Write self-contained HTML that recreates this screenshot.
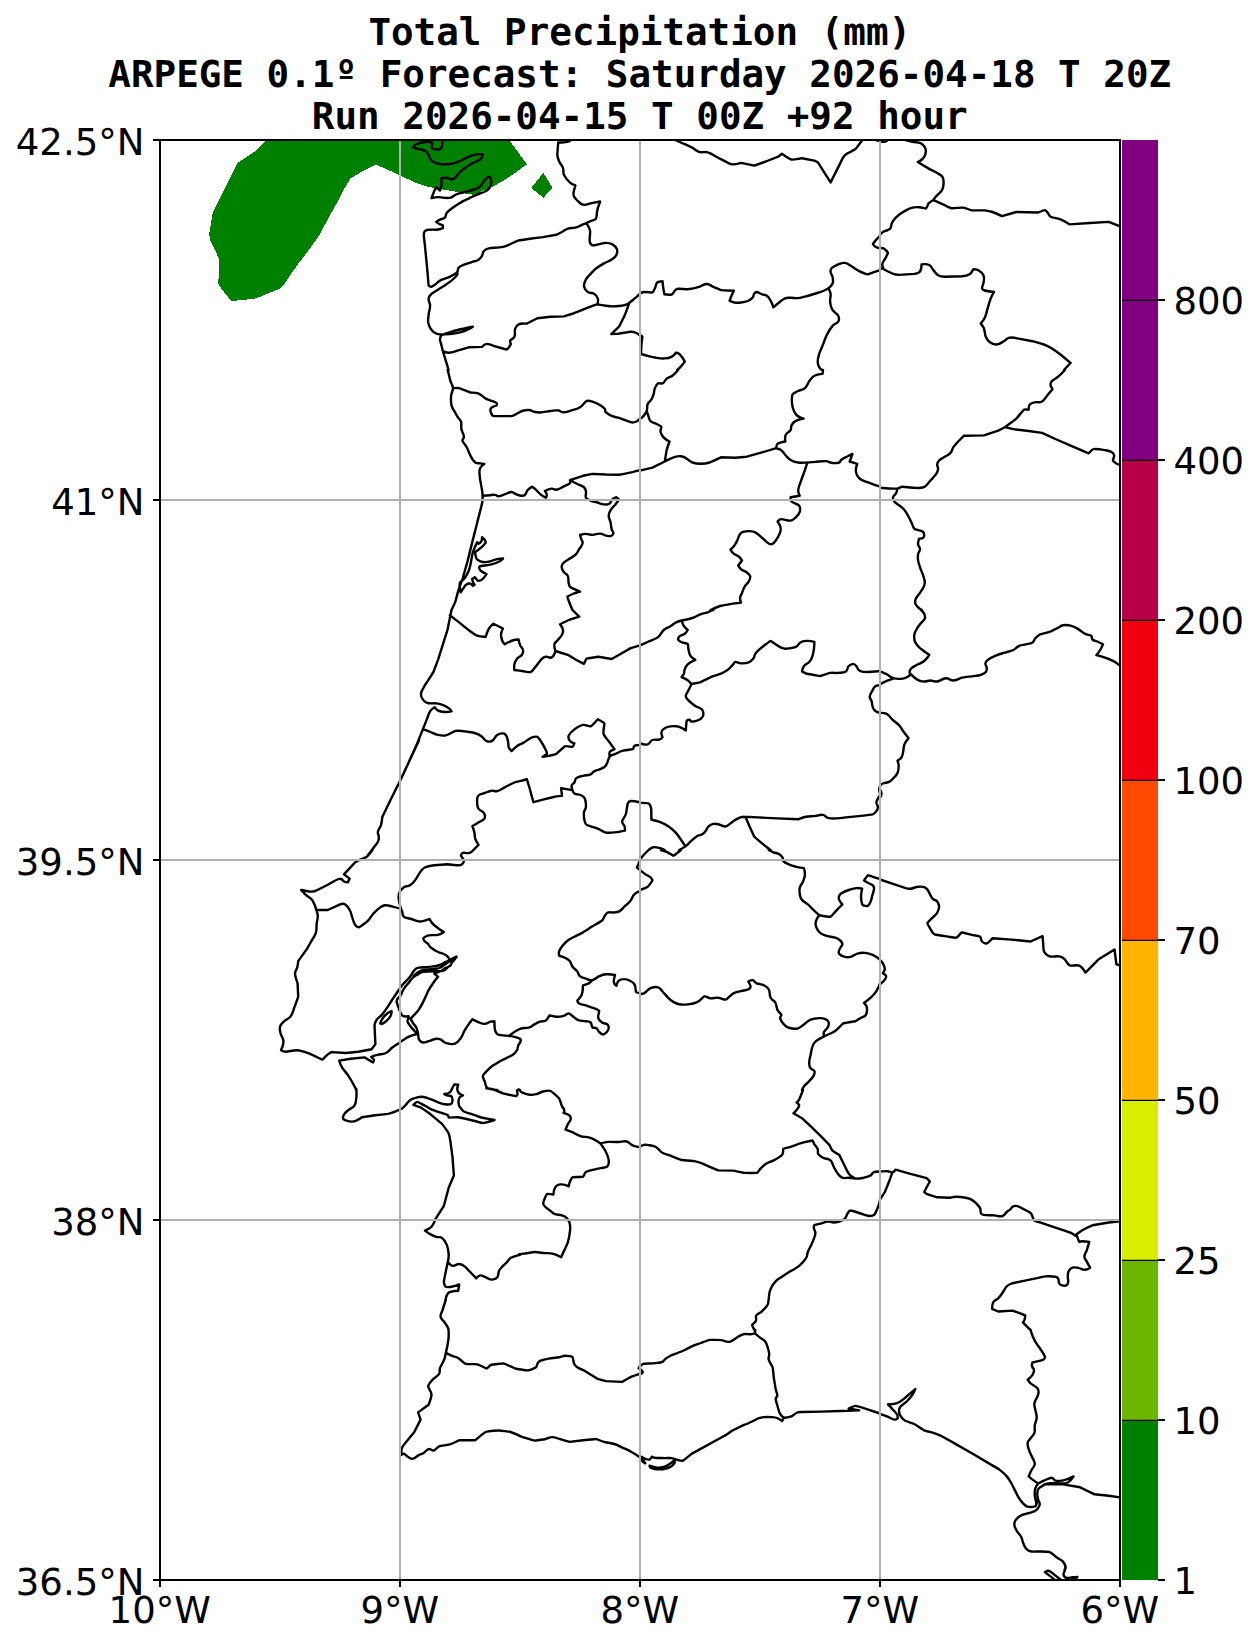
<!DOCTYPE html>
<html><head><meta charset="utf-8">
<style>
html,body{margin:0;padding:0;background:#fff;}
body{width:1259px;height:1646px;overflow:hidden;}
svg{display:block;}
.t{font-family:"DejaVu Sans Mono","Liberation Mono",monospace;font-weight:bold;font-size:37.57px;text-anchor:middle;fill:#000;}
.l{font-family:"DejaVu Sans","Liberation Sans",sans-serif;font-size:37px;fill:#000;}
.b{fill:none;stroke:#000;stroke-width:2.4;stroke-linejoin:round;stroke-linecap:round;}
.g{stroke:#b0b0b0;stroke-width:2;fill:none;}
</style></head><body>
<svg width="1259" height="1646" viewBox="0 0 1259 1646">
<rect width="1259" height="1646" fill="#fff"/>
<!--TITLE-->
<text class="t" x="639.75" y="44.7" xml:space="preserve">Total Precipitation (mm)</text>
<text class="t" x="639.75" y="86.7" xml:space="preserve">ARPEGE 0.1º Forecast: Saturday 2026-04-18 T 20Z</text>
<text class="t" x="639.75" y="128.7" xml:space="preserve">Run 2026-04-15 T 00Z +92 hour</text>
<!--MAP-->
<svg x="160" y="140" width="960" height="1440" viewBox="160 140 960 1440" overflow="hidden">
<g id="fill">
<path fill="#008000" shape-rendering="crispEdges" d="M266.2 140.2L256.6 150.3L237.5 163L233.7 170.7L223.5 191L212.9 211.8L210.8 224L209.1 234.2L210.8 241.8L215.9 252L219 259.6L219 274.9L218 283.8L223.5 291.4L231.2 300.8L241.3 300.3L256.6 298.3L266.8 293.9L279.5 288.9L284.5 283.8L292.2 272.3L298.5 263.4L307.4 252L320.1 234.2L327.8 219L337.9 201.2L344.3 188.5L350.6 178.3L363.3 170.7L376 164.6L388.8 170.2L399.4 175.2L414.2 182.1L426.9 186.4L439.6 189L452.3 191L459.9 192.5L467.5 194.1L480 194.8L480 140.2ZM472.4 139.5L472.4 194.8L473.4 194.8L482 191L491.5 187.2L502.9 181.1L514.4 173.5L526.8 164.3L522 157.6L514.4 147.2L509.6 140.5L509 139.5ZM543.4 172.9L552.5 188.1L543.4 197.7L531.2 188.1Z"/>
</g>
<g class="b">
<path d="M442.3 139.5C442.3 139.5 442.4 140.6 442.3 141.4C442.1 143.7 442.5 145.0 441.6 147.2C441.1 148.4 440.4 149.1 439.1 149.4C437.2 149.9 436.1 149.6 434.3 149.1C433.0 148.7 431.6 147.4 431.5 147.2C431.4 147.0 432.4 143.3 432.4 143.3C432.4 143.3 430.2 142.0 428.6 141.8C426.3 141.6 425.1 141.9 422.9 142.4C420.2 143.0 418.7 143.0 416.2 144.3C414.6 145.1 413.0 147.5 413 147.5C413.0 147.5 416.7 148.5 419.1 149.1C421.4 149.7 422.8 149.4 424.8 150.6C426.7 151.8 427.4 152.9 428.6 154.8C429.7 156.5 429.2 157.9 430.5 159.5C432.0 161.3 433.1 162.0 435.3 162.8C438.5 164.0 440.3 164.2 443.8 164.3C447.7 164.4 449.7 164.2 453.4 163.4C456.6 162.7 458.0 161.8 461 160.5C464.1 159.1 465.4 158.0 468.6 156.7C471.6 155.5 473.1 155.0 476.3 154.4C478.9 153.9 482.9 154.2 482.9 154.2C482.9 154.2 482.3 157.2 481 158.6C479.5 160.2 478.2 160.4 476.3 161.5C474.0 162.7 472.7 163.0 470.5 164.3C468.1 165.7 467.0 166.4 464.8 168.1C462.4 169.9 461.2 170.8 459.1 172.9C457.4 174.6 457.2 176.1 455.3 177.7C454.0 178.7 453.1 179.2 451.5 179.2C449.1 179.2 448.2 177.8 445.8 177.7C443.8 177.6 441.0 178.6 441 178.6C441.0 178.6 441.8 182.0 441.6 184.3C441.4 186.9 440.0 190.6 440 190.6C440.0 190.6 436.2 187.2 436.2 187.2C436.2 187.2 435.0 189.4 434.3 191C433.1 193.8 431.5 198.2 431.5 198.2C431.5 198.2 435.4 197.2 438.1 197.1C440.4 197.0 441.5 197.6 443.8 197.7C446.5 197.8 447.9 198.4 450.5 197.7C452.7 197.2 453.2 195.7 455.3 194.8C458.2 193.6 459.8 193.4 462.9 192.5C466.4 191.5 469.1 191.1 472.4 190C475.2 189.1 476.7 188.9 479.1 187.2C481.1 185.8 481.4 184.3 482.9 182.4C484.1 180.9 484.3 179.8 485.8 178.6C487.1 177.5 489.6 176.7 489.6 176.7C489.6 176.7 490.9 178.3 491.1 179.6C491.4 181.9 491.3 183.1 490.7 185.3C490.3 187.0 489.8 187.9 488.6 189.1C487.0 190.7 485.9 191.1 483.9 192C481.0 193.4 479.3 193.5 476.3 194.8C473.1 196.2 471.7 197.1 468.6 198.6C465.6 200.1 464.0 200.7 461 202.4C457.9 204.2 456.3 205.1 453.4 207.2C450.6 209.3 448.9 210.2 446.7 212.9C445.4 214.5 446.3 216.2 444.8 217.7C443.3 219.2 441.9 218.7 440 219.6C438.4 220.4 436.2 221.9 436.2 221.9C436.2 221.9 437.9 223.2 439.1 223.8C440.6 224.5 442.7 225.1 442.9 225.3C443.1 225.5 442.9 228.2 442.9 228.2C442.9 228.2 440.1 229.3 438.1 229.5C435.1 229.9 433.5 229.5 430.5 229.7C428.6 229.9 427.1 229.6 425.7 230.5C424.4 231.3 423.9 232.3 423.8 233.9C423.7 236.1 424.8 244.4 424.8 244.4C424.8 244.4 426.3 259.6 426.3 259.6C426.3 259.6 427.6 273.0 427.6 273C427.6 273.0 428.5 285.2 428.6 285.4C428.7 285.6 430.3 286.9 431.5 286.7C432.7 286.5 433.9 285.4 435.3 284.4C437.3 283.0 437.9 281.7 440 280.6C442.9 279.0 444.7 279.0 447.7 277.7C450.0 276.7 451.2 276.2 453.4 274.9C455.0 273.9 456.1 273.5 457.2 272C458.3 270.5 457.4 268.9 458.7 267.6C460.6 265.7 462.3 265.5 464.8 264.4C467.8 263.2 469.4 262.9 472.4 261.9C474.7 261.1 476.1 261.3 478.2 260C480.1 258.8 480.8 257.7 482 255.8C483.1 254.1 482.4 252.5 483.9 251C485.7 249.2 487.1 248.8 489.6 248.2C492.6 247.4 494.2 247.9 497.2 247.6C499.9 247.3 501.3 247.4 503.9 246.7C506.7 246.0 507.9 245.1 510.6 244C513.7 242.7 516.4 241.1 518.2 240.6C520.0 240.1 529.6 238.7 529.6 238.7C529.6 238.7 543.0 237.1 543 237.1C543.0 237.1 556.3 234.8 556.3 234.8C556.3 234.8 559.8 233.2 562 232C564.4 230.7 565.3 229.5 567.8 228.7C570.7 227.7 572.4 228.4 575.4 227.6C578.6 226.7 580.0 225.7 583 224.4C586.0 223.1 587.6 222.5 590.6 221.1C592.8 220.1 595.0 220.2 596 218.6C597.0 217.0 596.5 213.4 597.3 210.1C598.2 206.6 600.2 201.5 600.2 201.5C600.2 201.5 594.1 202.7 590.6 203.4C587.6 204.0 586.0 205.4 583 204.7C580.2 204.1 579.3 202.5 577.3 200.5C575.4 198.5 573.8 197.4 573.5 194.8C573.2 192.2 575.4 185.3 575.4 185.3C575.4 185.3 571.6 184.1 569.7 182.4C567.2 180.1 565.4 177.9 563.9 174.8C562.8 172.4 563.9 170.6 563 168.1C562.0 165.2 560.4 164.3 559.2 161.5C558.1 158.9 557.3 155.5 557.3 154.8C557.3 154.1 558.2 142.4 558.2 142.4C558.2 142.4 561.6 142.7 563.9 142.4C566.3 142.1 568.1 141.8 569.7 141.1C570.4 140.8 570.6 139.5 570.6 139.5M457.2 272C457.2 272.0 457.8 273.9 457.2 274.9C455.7 277.1 452.8 279.6 451.5 280.6C450.2 281.6 442.8 286.7 441.9 287.3C441.0 287.9 432.1 293.4 431.5 293.9C430.9 294.4 428.9 296.5 428.6 298.7C428.3 301.4 430.1 302.7 430.1 305.4C430.1 308.9 429.0 311.2 428.6 314.9C428.3 317.9 427.8 319.5 428.2 322.5C428.6 325.0 429.2 326.2 430.5 328.3C431.7 330.2 432.4 331.2 434.3 332.4C436.3 333.7 437.6 334.1 440 334.4C443.3 334.7 447.7 334.2 449.6 334C451.5 333.8 459.2 332.5 461 332.1C462.8 331.7 465.6 330.6 468.6 329.2C470.4 328.4 472.8 326.7 472.8 326.7C472.8 326.7 466.4 327.9 464.8 328.3C463.2 328.7 454.7 330.7 453.4 331.1C452.1 331.5 442.5 334.5 441.9 334.9C441.3 335.3 440.2 337.0 440 338.7C439.8 340.7 440.6 341.6 441 343.5C441.7 346.6 442.1 348.1 442.9 351.1C443.8 354.4 444.7 357.1 445.8 360.7C446.9 364.3 448.6 370.0 448.6 370M442.9 351.1C442.9 351.1 446.2 352.8 448.6 352.7C452.1 352.6 455.8 351.1 457.2 350.7C458.6 350.3 468.6 347.3 468.6 347.3C468.6 347.3 482.0 346.9 482 346.9C482.0 346.9 484.5 344.0 486.7 343.9C489.2 343.8 493.9 346.0 495.3 346.4C496.7 346.8 506.7 349.6 506.8 349.6C506.9 349.6 509.7 346.9 510.6 344.5C511.2 343.0 509.5 342.0 510.2 340.6C510.9 339.2 513.5 338.9 514.4 336.8C515.7 333.7 514.1 331.5 515.3 328.3C516.1 326.2 517.0 325.0 519.1 324.1C522.0 322.9 525.3 324.0 526.8 323.5C528.3 323.0 537.3 318.3 537.3 318.3C537.3 318.3 550.6 316.8 550.6 316.8C550.6 316.8 563.9 316.4 563.9 316.4C563.9 316.4 570.6 314.3 571.6 314C572.6 313.7 582.0 310.0 583 309.6C584.0 309.2 590.0 306.7 592.5 305.8C594.4 305.1 597.3 304.4 597.3 304.4M597.3 304.4C597.3 304.4 598.5 300.9 597.9 298.7C597.3 296.4 596.4 295.2 594.4 293.9C592.1 292.4 590.0 293.6 587.8 292C585.6 290.4 584.4 289.0 584 286.3C583.6 283.5 584.6 282.1 585.9 279.6C587.3 277.0 588.6 276.1 590.6 273.9C592.8 271.5 593.8 270.2 596.3 268.2C599.2 266.0 600.8 265.2 604 263.4C607.0 261.7 608.8 261.5 611.6 259.6C613.8 258.1 615.2 257.3 616.4 254.9C617.4 252.8 617.7 251.3 616.9 249.1C616.0 246.7 614.7 245.7 612.5 244.4C610.1 243.1 608.6 242.9 605.9 242.9C602.8 242.9 601.4 243.9 598.3 244.4C596.0 244.8 593.4 245.6 592.5 245.3C591.6 245.0 590.0 243.4 589.7 241.5C589.3 239.3 590.4 233.6 590.1 231C589.8 228.6 589.0 227.5 587.8 225.3C587.3 224.4 585.9 223.4 585.9 223.4M597.3 304.4C597.3 304.4 602.4 305.4 605.9 305.8C609.7 306.2 613.5 306.4 615.4 306.3C617.3 306.2 625.0 305.1 626.8 304.4C628.6 303.7 631.6 301.1 634.5 298.7C636.8 296.8 640.0 293.6 640 293.6M628.8 304.4C628.8 304.4 625.1 314.5 624.9 314.9C624.7 315.3 619.4 326.0 619.2 326.3C619.0 326.6 611.2 334.0 611.2 334C611.2 334.0 617.5 333.8 619.2 333.6C620.9 333.4 629.2 331.8 630.7 331.7C632.2 331.6 634.2 332.1 636.4 333C638.0 333.7 640.0 335.5 640 335.5M674.3 139.5C674.3 139.5 679.1 141.8 681.9 143C684.7 144.2 688.7 145.8 691.5 147.2C694.3 148.6 695.7 150.8 699.1 151.9C702.4 152.9 704.4 151.4 707.7 152.3C711.4 153.3 712.9 154.9 716.3 156.7C719.7 158.5 721.5 159.4 724.8 161.1C727.5 162.4 728.5 164.0 731.5 164.3C735.0 164.7 741.0 162.8 741 162.8C741.0 162.8 754.4 165.6 754.4 165.6C754.4 165.6 765.8 161.5 765.8 161.5C765.8 161.5 778.2 156.7 778.2 156.7C778.2 156.7 781.8 153.8 782 153.8C782.2 153.8 789.1 159.0 791.5 159.5C793.9 160.0 802.0 158.2 802 158.2C802.0 158.2 815.4 160.9 815.4 160.9C815.4 160.9 818.2 162.8 818.2 162.8C818.2 162.8 830.6 182.4 830.6 182.4C830.6 182.4 837.3 169.1 837.3 169.1C837.3 169.1 842.9 157.8 843 157.6C843.1 157.4 845.0 155.0 846.8 153.8C849.3 152.1 854.4 150.0 855.4 149.1C856.4 148.2 862.7 139.5 862.7 139.5M873.5 139.5L880 141.1M880 235.8C880.0 235.8 877.1 238.6 875.4 240.6C874.3 241.9 872.9 244.0 872.9 244C872.9 244.0 874.1 246.0 875.4 246.7C877.1 247.7 880.0 248.2 880 248.2M640 293.6C640.0 293.6 642.2 292.2 643.8 292C647.2 291.7 651.3 292.8 652.4 292.4C653.5 292.0 654.0 290.0 654.9 288.2C656.0 286.0 655.8 283.8 657.2 282.5C658.6 281.2 662.5 281.2 662.5 281.2C662.5 281.2 662.9 285.4 663.3 288.2C663.7 290.7 664.4 294.3 664.4 294.3C664.4 294.3 669.8 295.2 672 294.3C674.0 293.5 673.7 291.5 675.3 290.1C676.2 289.3 676.9 288.9 678.1 288.8C680.8 288.6 685.9 289.4 687.7 289.2C689.5 289.0 697.4 287.4 699.1 286.9C700.8 286.4 703.4 284.1 706.7 284C709.2 283.9 710.1 285.3 712.4 286.3C715.7 287.7 720.7 290.0 721 290.1C721.3 290.2 733.8 290.7 733.8 290.7C733.8 290.7 732.1 294.3 731.1 296.8C730.5 298.3 729.6 300.6 729.6 300.6C729.6 300.6 732.4 302.2 734.4 302.5C737.0 302.9 738.4 302.8 741 302.5C743.7 302.2 745.2 302.0 747.7 301C749.8 300.1 751.0 299.5 752.5 297.8C753.8 296.4 753.3 295.0 754.4 293.4C755.0 292.5 755.6 291.9 756.7 292C758.0 292.2 759.8 293.5 762 294.3C763.9 295.0 765.2 294.6 766.8 295.8C768.8 297.2 769.4 298.5 770.6 300.6C772.0 303.1 773.4 307.3 773.4 307.3C773.4 307.3 776.8 304.4 779.2 302.5C781.4 300.8 782.3 299.4 784.9 298.3C787.0 297.4 788.3 297.8 790.6 297.8C793.6 297.8 795.2 298.4 798.2 298.1C801.3 297.8 804.6 296.7 805.8 296.4C807.0 296.1 816.0 293.4 817.3 293C818.6 292.6 822.7 291.3 825.9 289.7C828.0 288.7 830.6 286.3 830.6 286.3M880 270.1C880.0 270.1 867.9 274.3 867.8 274.3C867.7 274.3 862.5 272.7 859.2 271.1C856.0 269.5 854.7 268.1 851.6 266.3C849.0 264.8 847.9 263.3 844.9 262.9C842.2 262.5 840.8 263.4 838.3 264.4C835.4 265.5 833.6 266.3 831.6 268.2C830.5 269.3 830.4 270.4 830.6 272C830.8 274.1 832.1 274.8 832.5 276.8C833.0 279.0 833.3 280.3 832.9 282.5C832.6 284.2 831.7 284.9 830.6 286.3C830.0 287.2 828.7 287.5 828.7 288.2C828.7 288.9 830.4 291.5 830.6 293.9C830.9 297.0 829.9 298.5 830.1 301.6C830.3 304.3 830.6 305.7 831.6 308.2C832.3 309.9 833.2 310.6 834.4 312C835.8 313.7 837.5 313.9 838.3 315.9C839.2 318.0 839.3 319.9 838.3 321.6C837.3 323.3 834.2 323.9 832.9 325.4C831.6 326.9 827.9 332.8 826.8 334.9C825.7 337.0 824.3 341.2 823 344.5C821.7 347.8 820.1 351.0 819.2 354C818.3 357.0 817.7 358.5 817.7 361.6C817.7 364.0 818.1 365.2 819.2 367.3C819.9 368.7 822.0 370.0 822 370M640 334.9C640.0 334.9 642.1 335.6 642.3 336.8C642.5 338.1 641.7 340.8 641.5 343.5C641.3 346.2 641.0 354.0 641 354C641.0 354.0 644.9 355.2 647.6 355.9C651.0 356.8 652.7 357.3 656.2 357.8C659.6 358.3 661.4 358.6 664.8 358.4C667.5 358.2 669.0 358.0 671.5 356.8C673.7 355.7 675.8 352.8 676.2 352.7C676.6 352.6 678.8 353.4 680 354.6C682.4 357.0 684.8 361.6 684.8 361.6C684.8 361.6 682.6 364.6 681 366.4C679.6 368.0 677.2 370.0 677.2 370M880 141.1C880.0 141.1 882.9 142.2 884.8 141.8C886.5 141.5 888.6 139.5 888.6 139.5M903.8 139.5C903.8 139.5 908.9 141.0 912.4 141.8C915.8 142.6 917.8 141.9 921 143.3C923.0 144.2 923.6 145.4 924.8 147.2C925.6 148.5 925.8 149.4 925.8 151C925.8 152.9 925.6 154.0 924.8 155.7C924.0 157.4 923.3 158.2 921.9 159.5C920.4 160.8 917.7 162.0 917.7 162C917.7 162.0 929.6 169.1 929.6 169.1C929.6 169.1 935.2 171.6 938.1 173.5C940.2 174.9 941.9 175.3 942.9 177.7C944.1 180.6 943.7 182.8 943.3 186.2C943.1 188.3 942.6 189.3 941.4 191C940.1 193.0 938.8 193.4 937.2 195.2C935.4 197.1 933.0 200.2 933 200.2M933 200.2C933.0 200.2 940.2 203.1 942.9 204.3C945.6 205.5 949.5 207.9 951.5 208.2C953.5 208.5 960.9 207.4 962.9 207.6C964.9 207.8 971.5 210.4 971.5 210.4C971.5 210.4 984.8 210.4 984.8 210.4C984.8 210.4 989.6 211.0 992.5 212C995.4 213.0 1002.0 216.2 1002 216.2C1002.0 216.2 1016.3 212.0 1016.3 212C1016.3 212.0 1038.2 212.5 1038.2 212.5C1038.2 212.5 1044.0 210.1 1044.9 210.1C1045.8 210.1 1046.7 211.7 1047.8 212.9C1049.0 214.3 1048.9 215.9 1050.6 216.7C1052.3 217.6 1058.5 218.6 1061.1 219.6C1063.7 220.6 1069.7 224.4 1069.7 224.4C1069.7 224.4 1089.7 223.0 1089.7 223C1089.7 223.0 1108.8 221.9 1108.8 221.9C1108.8 221.9 1120.0 226.3 1120 226.3M933 200.2C933.0 200.2 930.1 201.8 928.6 203.4C927.7 204.3 927.9 205.2 927.3 206.3C926.8 207.2 926.3 208.4 925.8 208.5C925.3 208.6 921.8 207.3 919.1 207.2C916.1 207.1 914.4 207.0 911.5 207.8C908.2 208.7 906.2 210.1 903.8 211.6C901.4 213.1 897.1 216.4 895.3 218.1C893.5 219.8 892.9 221.1 891.8 223.4C890.9 225.2 891.6 226.5 890.5 228.2C889.8 229.4 888.8 229.5 887.6 230.1C885.8 231.0 884.6 230.9 882.9 232C881.5 232.8 880.0 234.8 880 234.8M880 248.2C880.0 248.2 882.5 247.8 883.8 248.6C885.9 249.9 887.9 252.7 888 253C888.1 253.3 886.6 255.8 885.7 257.7C884.4 260.4 882.8 261.4 882.3 264.4C882.0 266.4 883.8 269.2 883.8 269.2C883.8 269.2 880.0 268.2 880 268.2M883.8 269.2C883.8 269.2 890.9 273.0 893.3 273.9C895.5 274.7 899.1 274.9 899.1 274.9C899.1 274.9 914.3 273.9 914.3 273.9C914.3 273.9 918.6 273.2 920 271.4C921.4 269.6 921.6 264.4 921.6 264.4C921.6 264.4 926.5 263.7 929.2 265C931.6 266.1 931.7 268.1 933.4 270.1C935.2 272.2 935.7 273.9 938.1 275.3C940.5 276.7 944.8 276.8 944.8 276.8C944.8 276.8 962.0 276.2 962 276.2C962.0 276.2 966.9 275.9 969.6 274.3C971.8 273.0 973.0 269.4 973.4 269.2C973.8 269.0 977.1 269.5 979.1 270.7C981.2 271.9 982.3 272.8 983.3 274.9C984.3 277.0 984.1 278.3 983.9 280.6C983.6 283.7 981.9 287.4 982 288.2C982.1 289.0 983.4 290.1 984.8 290.5C987.6 291.4 994.0 292.0 994 292C994.0 292.0 991.7 295.9 990.6 298.7C989.4 301.9 988.8 304.6 987.7 308.2C986.6 311.8 986.1 314.9 984.8 317.8C983.6 320.4 980.7 323.2 980.7 323.5C980.7 323.8 983.1 326.1 983.9 328.3C985.1 331.6 984.5 333.6 985.8 336.8C986.8 339.2 987.5 340.5 989.6 342C991.9 343.7 993.4 344.7 996.3 344.5C999.6 344.3 1001.0 342.8 1003.9 341.2C1006.0 340.1 1006.4 338.3 1008.7 337.8C1012.1 337.1 1017.3 338.4 1017.3 338.4C1017.3 338.4 1032.5 341.2 1032.5 341.2C1032.5 341.2 1042.5 344.0 1043.9 344.5C1045.3 345.0 1050.0 347.3 1051.6 348.3C1053.2 349.3 1060.4 354.4 1061.1 354.9C1061.8 355.4 1070.6 362.9 1070.6 362.9C1070.6 362.9 1064.0 370.0 1064 370M447.7 370C447.7 370.0 450.1 379.9 450.5 381.4C450.9 382.9 452.9 385.2 453 388.1C453.1 391.2 451.4 392.6 451.1 395.7C450.8 399.4 450.8 402.0 451.5 405.3C452.0 407.8 453.1 408.8 454.3 411C455.7 413.7 456.4 415.1 458.1 417.7C459.1 419.3 460.5 419.7 461 421.5C461.8 424.4 460.8 426.1 461.4 429.1C462.0 432.2 463.6 433.5 463.9 436.7C464.1 438.5 462.0 439.2 462.5 440.9C463.1 443.0 465.3 444.5 466.7 447.2C468.5 450.5 468.7 452.5 470.5 455.8C472.1 458.7 472.8 460.5 475.3 462.5C476.8 463.7 478.2 463.1 480.1 463.4C481.8 463.7 484.3 464.0 484.3 464C484.3 464.0 481.0 466.0 480.1 468.2C479.0 471.0 479.5 472.8 479.7 475.8C479.9 479.3 480.5 481.0 481 484.4C481.5 487.8 482.1 489.5 482.4 493C482.7 496.4 482.8 498.1 482.4 501.5C481.9 505.1 480.1 511.1 480.1 511.1C480.1 511.1 476.3 526.3 476.3 526.3C476.3 526.3 472.4 541.6 472.4 541.6C472.4 541.6 467.7 560.6 467.7 560.6C467.7 560.6 462.9 577.8 462.9 577.8C462.9 577.8 458.1 591.1 458.1 591.1C458.1 591.1 456.2 599.0 455.3 601.6C454.4 604.2 451.5 610.0 451.5 610M453 388.1C453.0 388.1 458.2 387.9 459.1 388.1C460.0 388.3 469.5 392.2 470.5 392.5C471.5 392.8 475.3 392.2 478.2 393.3C481.6 394.7 482.6 396.8 485.8 398.6C487.9 399.8 489.2 400.0 491.5 400.9C493.4 401.7 495.5 402.1 496.3 402.8C497.1 403.5 496.8 405.3 496.8 405.3C496.8 405.3 492.9 406.4 491.5 407.7C490.5 408.6 490.2 409.6 490.5 411C490.9 413.1 491.7 415.2 493 415.8C494.3 416.4 499.1 416.1 501 416.1C502.9 416.1 510.5 416.3 512.5 415.8C514.5 415.3 519.4 411.9 522 411C524.6 410.1 526.5 409.8 529.6 410C531.2 410.1 531.8 411.2 533.4 411.6C536.0 412.2 537.5 412.6 540.1 412.5C542.7 412.4 547.8 411.3 550.6 411C553.4 410.7 555.2 410.1 558.2 410.4C560.3 410.6 560.9 412.3 563 412.3C566.5 412.3 568.2 411.4 571.6 410.4C575.1 409.4 577.0 409.1 580.1 407.2C583.2 405.3 584.8 401.6 586.8 400.9C588.8 400.2 591.5 401.4 594.4 402.4C596.9 403.2 598.0 403.9 600.2 405.3C602.2 406.6 603.4 407.2 604.9 409.1C605.6 410.0 604.7 411.1 605.5 411.9C607.2 413.6 608.9 414.7 611.6 415.8C614.7 417.1 618.8 417.8 621.1 418.6C623.4 419.4 629.8 422.1 631.6 422.4C633.4 422.7 634.6 422.3 636.4 421.5C638.1 420.7 640.0 418.6 640 418.6M482.4 495.8C482.4 495.8 486.7 495.4 489.6 495.2C491.9 495.0 493.0 494.6 495.3 494.9C496.6 495.0 496.9 496.3 498.2 496.2C501.3 495.9 502.8 494.9 505.8 493.9C508.1 493.2 509.1 491.9 511.5 492C513.6 492.1 514.3 493.6 516.3 494.3C518.5 495.1 519.6 495.6 522 495.8C523.2 495.9 524.0 495.8 524.9 494.9C526.5 493.3 526.3 491.8 527.7 490.1C529.1 488.5 531.9 486.7 531.9 486.7C531.9 486.7 534.1 488.0 535.3 489.1C537.7 491.3 538.6 492.8 541.1 494.9C542.8 496.3 545.8 497.7 545.8 497.7C545.8 497.7 547.0 496.1 546.8 494.9C546.6 493.2 544.9 491.0 544.9 491C544.9 491.0 548.7 488.9 551.5 488.6C553.5 488.4 554.4 490.1 556.3 489.7C559.6 489.1 560.9 487.7 563.9 486.3C566.2 485.2 568.8 484.3 569.7 483.4C570.6 482.5 570.0 480.2 570 480.2C570.0 480.2 583.0 475.8 583 475.8C583.0 475.8 592.5 473.9 592.5 473.9C592.5 473.9 605.9 474.5 605.9 474.5C605.9 474.5 619.2 474.8 619.2 474.8C619.2 474.8 626.9 473.3 628.8 472.9C630.7 472.5 640.0 470.1 640 470.1M570 480.2C570.0 480.2 574.4 482.5 577.3 484C580.0 485.3 581.7 485.3 584 487.2C585.3 488.3 585.6 489.3 585.9 491C586.4 493.6 585.2 496.3 585.9 497.7C586.6 499.1 588.6 499.7 590.6 500.6C593.2 501.7 594.6 501.7 597.3 502.5C600.0 503.3 601.2 504.2 604 504.4C606.3 504.6 607.9 504.5 609.7 503.4C611.2 502.5 610.7 500.8 612 499.6C613.5 498.3 616.0 497.3 616.4 497.3C616.8 497.3 619.2 499.6 619.2 499.6C619.2 499.6 617.0 502.5 615.4 504.4C613.5 506.7 612.1 507.5 610.6 510.1C609.4 512.2 608.7 513.4 608.7 515.8C608.7 518.6 610.0 519.8 610.6 522.5C611.2 525.1 610.9 526.6 611.6 529.2C612.1 530.8 613.5 532.5 613.5 533C613.5 533.5 612.5 535.2 611.2 535.8C609.8 536.4 608.5 536.1 606.8 535.8C604.1 535.3 603.0 533.8 600.2 533.6C597.1 533.4 595.6 534.8 592.5 534.9C589.8 535.0 588.6 533.9 585.9 533.9C583.5 533.9 580.1 534.9 580.1 534.9C580.1 534.9 580.6 537.2 581.1 538.7C581.6 540.5 582.9 541.3 582.6 543.1C582.2 545.6 580.7 546.8 579.2 549.2C577.8 551.5 577.4 553.0 575.4 554.9C572.8 557.3 570.8 557.7 567.8 559.7C565.8 561.1 564.5 561.6 563 563.5C562.0 564.8 561.5 565.7 561.7 567.3C561.9 569.4 562.7 570.4 563.9 572.1C565.2 573.9 567.0 573.9 567.8 575.9C569.0 578.7 568.0 580.5 568.7 583.5C569.1 585.2 569.2 586.3 570.6 587.3C572.4 588.6 580.1 591.5 580.1 591.5C580.1 591.5 575.5 592.8 572.5 594C570.4 594.9 567.4 596.8 567.4 596.8C567.4 596.8 568.7 600.9 569.7 603.5C570.7 606.1 572.5 610.0 572.5 610M678.1 370C678.1 370.0 675.0 373.8 672.4 375.7C670.4 377.2 668.7 377.0 666.7 378.6C664.8 380.1 664.7 382.3 662.9 383.3C661.2 384.2 659.4 382.5 658.1 383.3C656.8 384.1 655.8 386.0 654.9 388.1C654.0 390.2 654.4 391.6 653.7 393.8C653.0 396.2 652.6 397.4 651.4 399.5C650.2 401.6 648.5 402.0 647.6 404.3C646.6 406.8 647.7 408.5 646.7 411C645.7 413.6 644.7 414.6 642.9 416.7C642.0 417.7 640.0 418.6 640 418.6M646.7 411C646.7 411.0 647.8 414.5 648.6 416.7C649.3 418.5 649.1 419.8 650.5 421.1C652.3 422.8 654.0 422.6 656.2 423.8C658.3 424.9 661.2 426.5 661.4 426.8C661.6 427.1 660.1 429.9 660.6 432C661.2 434.6 662.0 435.8 663.8 437.7C665.7 439.7 669.5 441.5 669.5 441.5C669.5 441.5 667.1 448.3 666.7 450.1C666.3 451.9 664.8 461.5 664.8 461.5M640 470.7C640.0 470.7 652.4 467.6 652.4 467.6C652.4 467.6 664.8 461.5 664.8 461.5C664.8 461.5 671.7 458.0 674.3 457.1C676.9 456.3 678.3 456.0 681 456.2C683.1 456.4 684.0 457.1 685.8 458.1C688.6 459.6 689.4 461.4 692.4 462.5C695.7 463.7 697.5 463.8 701 463.8C704.5 463.8 709.0 462.7 709.6 462.5C710.2 462.3 721.0 457.3 721 457.3C721.0 457.3 735.3 457.7 735.3 457.7C735.3 457.7 746.8 456.7 746.8 456.7C746.8 456.7 762.0 452.4 762 452.4C762.0 452.4 776.3 448.2 776.3 448.2M823 370C823.0 370.0 822.7 373.7 822.6 373.8C822.5 373.9 817.4 374.1 814.4 375.7C812.0 376.9 811.3 378.4 809.7 380.5C807.5 383.4 807.6 385.7 804.9 388.1C802.7 390.1 800.8 389.7 798.2 391C795.8 392.2 793.1 393.1 792.5 394.4C791.9 395.7 791.8 401.0 792.1 404.3C792.4 407.1 792.9 408.5 794 411C795.0 413.1 795.5 414.4 797.3 415.8C799.5 417.5 803.6 418.6 803.6 418.6C803.6 418.6 798.4 419.4 795.4 421.1C793.4 422.2 792.6 423.3 791.5 425.3C790.6 427.0 791.6 428.4 790.6 430C789.2 432.3 786.9 432.3 785.8 434.8C784.7 437.2 785.3 441.5 785.3 441.5C785.3 441.5 782.7 441.9 781.1 442.4C779.5 442.9 778.2 442.9 777.3 444C776.4 445.1 776.3 448.2 776.3 448.2C776.3 448.2 779.5 448.8 781.1 450.1C783.8 452.3 784.3 454.2 786.8 456.7C788.5 458.4 789.3 459.4 791.5 460.5C794.0 461.8 795.4 462.2 798.2 462.5C801.9 463.0 803.7 462.6 807.4 462.5C810.6 462.4 812.5 462.1 815.4 461.9C818.3 461.7 823.2 460.9 825.9 461.1C828.6 461.3 829.8 462.7 832.5 463C835.2 463.3 837.2 463.2 839.2 462.5C840.4 462.1 840.1 460.7 841.1 460C843.6 458.2 845.1 457.7 847.8 456.2C849.6 455.2 852.5 453.9 852.5 453.9C852.5 453.9 849.7 461.5 849.7 461.5C849.7 461.5 857.3 463.8 857.3 463.8C857.3 463.8 855.8 467.5 855.8 470.1C855.8 472.5 856.2 473.7 857.3 475.8C858.3 477.7 859.2 478.5 861.1 479.6C863.4 480.9 867.5 482.2 870.7 483.4C873.9 484.6 880.0 486.7 880 486.7M807.4 462.5C807.4 462.5 805.6 468.0 804.9 470.1C804.2 472.2 801.9 478.3 801.1 480.6C800.3 482.9 798.5 487.1 798.2 490.1C798.0 492.4 799.7 495.8 799.7 495.8C799.7 495.8 790.6 497.3 790.6 497.3C790.6 497.3 790.3 500.3 791.5 501.5C793.1 503.1 798.1 504.3 799.2 505.7C800.3 507.1 800.3 509.6 799.7 512C799.1 514.3 798.0 515.2 796.3 516.8C794.3 518.7 793.3 520.2 790.6 520.6C787.7 521.0 783.5 518.9 781.1 519.1C779.4 519.2 777.6 521.5 777.6 521.5C777.6 521.5 780.3 525.3 780.7 528.2C781.1 530.5 780.3 531.7 779.5 533.9C778.6 536.4 777.8 537.5 776.3 539.7C775.0 541.6 773.9 543.2 772.5 543.9C771.1 544.6 770.0 544.3 768.7 543.5C765.9 541.9 764.7 540.0 762 537.8C759.3 535.6 758.3 534.0 755.3 532.4C753.2 531.3 751.9 531.2 749.6 531.1C747.3 531.0 746.1 531.1 743.9 531.7C742.2 532.2 741.2 532.5 740.1 533.9C738.3 536.2 738.5 538.0 737.2 540.6C736.2 542.6 735.7 543.6 734.4 545.4C733.0 547.2 730.5 549.6 730.5 549.6C730.5 549.6 731.9 552.2 733.4 553.4C735.4 555.1 737.1 555.1 739.1 556.8C740.6 558.0 742.0 560.6 742 560.6C742.0 560.6 738.2 565.4 738.2 565.4C738.2 565.4 739.5 568.0 741 569.2C743.1 570.9 744.7 570.8 746.8 572.4C748.4 573.7 749.9 574.8 750.2 576.3C750.5 577.8 749.7 579.7 748.7 581.6C747.5 583.8 746.1 584.3 744.8 586.4C743.3 588.9 743.1 590.3 742 593C741.2 594.9 740.3 595.7 740.1 597.8C739.9 599.7 741.0 602.6 741 602.6C741.0 602.6 733.4 603.6 731.5 603.9C729.6 604.2 722.0 605.5 720.1 606C718.2 606.5 710.5 610.0 710.5 610M1064.9 370C1064.9 370.0 1061.1 374.2 1058.2 376.7C1055.7 378.8 1053.7 379.0 1051.6 381.4C1050.5 382.6 1050.4 383.7 1050.6 385.3C1050.8 387.0 1052.7 388.5 1052.5 389.1C1052.3 389.7 1049.7 392.5 1047.8 394.8C1045.5 397.5 1045.1 399.8 1042 401.5C1039.3 403.0 1037.4 401.6 1034.4 402.4C1032.3 402.9 1030.6 403.4 1029.6 404.7C1028.6 406.0 1028.7 409.7 1028.7 409.7C1028.7 409.7 1024.6 409.2 1023.9 409.7C1023.2 410.2 1017.5 417.4 1016.3 418.6C1015.1 419.8 1012.3 421.8 1009.6 423.8C1007.7 425.2 1004.9 427.2 1004.9 427.2M1004.9 427.2C1004.9 427.2 998.2 430.6 998.2 430.6C998.2 430.6 983.9 435.4 983.9 435.4C983.9 435.4 963.9 435.8 963.9 435.8C963.9 435.8 960.4 439.1 958.2 441.5C956.2 443.7 955.1 444.7 953.4 447.2C952.0 449.3 952.2 451.0 950.5 452.9C948.7 454.9 947.1 455.2 944.8 456.7C942.5 458.2 941.0 458.5 939.1 460.5C937.9 461.7 937.4 462.7 937.2 464.4C937.0 466.3 938.3 467.2 938.1 469.1C937.9 471.2 937.4 472.2 936.2 473.9C934.6 476.2 931.9 479.0 929.6 481.5C927.4 483.9 926.8 486.0 923.8 487.2C920.7 488.5 915.1 487.8 914.3 487.8C913.5 487.8 902.5 486.7 901.9 486.7C901.3 486.7 898.7 488.5 897.2 488.6C895.7 488.7 887.3 488.3 885.7 488.2C884.1 488.1 880.0 487.8 880 487.8M1004.9 427.2C1004.9 427.2 1013.4 429.1 1013.4 429.1C1013.4 429.1 1028.7 431.0 1028.7 431C1028.7 431.0 1042.0 432.9 1042 432.9C1042.0 432.9 1055.4 439.0 1055.4 439C1055.4 439.0 1070.6 445.7 1070.6 445.7C1070.6 445.7 1088.7 453.3 1088.7 453.3C1088.7 453.3 1092.2 449.3 1093.5 449.1C1094.8 448.9 1103.1 449.8 1104.9 450.1C1106.7 450.4 1109.2 450.6 1111.6 452C1113.1 452.8 1113.8 453.7 1114.1 455.4C1114.4 457.3 1112.7 459.8 1112.9 460.5C1113.1 461.2 1114.9 462.4 1116.4 463.4C1117.7 464.2 1120.0 464.9 1120 464.9M897.2 488.6C897.2 488.6 897.0 491.4 896.2 493C895.3 494.9 893.4 495.7 893 497.3C892.6 498.9 893.2 500.1 894.3 501.5C895.8 503.4 897.2 503.8 899.1 505.3C901.0 506.8 902.2 507.4 903.8 509.2C905.6 511.3 906.2 512.5 907.6 514.9C909.3 517.9 910.0 519.4 911.5 522.5C912.7 524.9 912.5 526.6 914.3 528.6C915.4 529.8 916.6 529.5 918.1 530.1C920.0 530.8 921.5 530.6 922.9 531.7C924.0 532.6 924.2 533.5 924.2 534.9C924.2 536.3 923.6 537.6 922.9 538.1C922.2 538.6 919.2 538.6 919.1 538.7C919.0 538.8 917.9 542.1 918.1 544.4C918.3 546.5 920.0 547.1 920 549.2C920.0 551.3 918.4 552.0 918.1 554C917.7 556.6 917.7 558.0 918.1 560.6C918.6 563.8 919.4 565.3 920.4 568.3C921.3 571.0 922.1 572.2 922.9 574.9C923.8 577.9 924.8 579.4 924.8 582.5C924.8 584.9 924.0 586.1 922.9 588.3C921.7 590.8 920.6 591.7 919.1 594C917.8 595.9 916.7 596.6 915.8 598.8C915.1 600.6 914.8 601.7 915.3 603.5C915.8 605.3 916.8 606.0 918.1 607.3C919.4 608.6 921.9 610.0 921.9 610M451.5 610C451.5 610.0 450.2 616.0 449.9 617.6C449.6 619.2 447.7 629.1 447.7 629.1C447.7 629.1 442.9 644.3 442.9 644.3C442.9 644.3 438.1 659.6 438.1 659.6C438.1 659.6 433.4 672.0 433.4 672C433.4 672.0 430.5 676.6 428.6 679.6C426.7 682.6 425.5 684.0 423.8 687.2C422.4 689.8 421.2 691.0 421 693.9C420.8 696.3 421.5 697.7 422.9 699.6C424.3 701.5 425.4 702.4 427.6 703C430.9 703.9 432.8 702.9 436.2 703.4C439.3 703.8 440.9 704.1 443.8 705.3C446.5 706.4 447.6 707.3 449.9 709.1C450.8 709.8 451.5 711.4 451.5 711.4C451.5 711.4 447.5 712.1 444.8 712C442.1 711.9 440.6 711.9 438.1 710.7C436.3 709.9 434.7 707.2 434.7 707.2C434.7 707.2 431.7 708.9 430.5 710.7C428.8 713.3 428.0 716.3 426.7 719.6C425.4 722.9 422.9 729.1 422.9 729.1C422.9 729.1 417.2 743.4 417.2 743.4C417.2 743.4 409.5 760.6 409.5 760.6C409.5 760.6 402.9 774.9 402.9 774.9C402.9 774.9 400.0 780.6 400 780.6M449.9 615.3C449.9 615.3 458.1 621.6 459.1 622.4C460.1 623.2 467.6 629.3 468.6 630C469.6 630.7 474.2 634.5 477.2 635.7C480.2 636.9 485.8 636.7 485.8 636.7C485.8 636.7 487.0 631.9 488.6 629.1C490.1 626.6 493.4 623.7 493.4 623.7C493.4 623.7 502.9 628.5 502.9 628.5C502.9 628.5 501.1 632.2 501 634.8C500.9 637.6 501.6 638.9 502.6 641.5C503.1 642.8 504.8 644.3 504.8 644.3C504.8 644.3 509.3 641.6 512.5 640.5C514.8 639.7 518.6 639.5 518.6 639.5C518.6 639.5 519.2 643.1 520.1 645.3C521.0 647.3 522.6 647.8 523 650C523.4 651.9 523.1 653.2 522 654.8C520.6 656.8 518.7 656.7 517.2 658.6C515.6 660.6 515.0 661.8 514.4 664.3C513.9 666.5 514.4 670.0 514.4 670C514.4 670.0 519.0 670.6 522 671C525.4 671.4 528.5 672.5 530.6 672C532.7 671.5 533.8 668.8 534.4 668.1C535.0 667.4 541.4 659.2 542 658.6C542.6 658.0 544.1 656.9 545.8 656.7C547.8 656.5 548.7 657.9 550.6 657.7C552.0 657.5 552.7 656.9 553.5 655.8C554.7 654.1 555.4 651.0 555.4 651M572.5 610C572.5 610.0 579.2 616.7 579.2 616.7C579.2 616.7 569.0 620.0 567.8 620.5C566.6 621.0 560.1 624.3 560.1 624.3C560.1 624.3 562.5 627.5 563 630C563.3 631.9 562.9 633.1 562 634.8C560.6 637.4 559.1 638.2 557.3 640.5C556.1 642.0 554.7 642.4 554.4 644.3C553.9 647.0 555.4 651.0 555.4 651C555.4 651.0 567.8 654.8 567.8 654.8C567.8 654.8 575.3 659.4 577.3 660.5C579.3 661.6 584.0 663.8 584 663.8C584.0 663.8 586.0 659.0 586.8 658.6C587.6 658.2 598.3 656.7 598.3 656.7C598.3 656.7 611.6 659.0 611.6 659C611.6 659.0 619.2 654.8 619.2 654.8C619.2 654.8 630.7 648.1 630.7 648.1C630.7 648.1 640.0 645.3 640 645.3M422.9 729.1C422.9 729.1 427.5 730.8 430.5 732C433.5 733.2 434.9 734.2 438.1 734.9C441.1 735.6 443.0 736.0 445.8 735.4C448.6 734.8 453.2 731.4 455.3 731C457.4 730.6 464.6 731.3 466.7 731.6C468.8 731.9 473.2 732.4 476.3 733.5C478.8 734.3 479.9 735.2 482 736.8C484.1 738.3 484.3 740.3 486.7 741.2C488.9 742.0 490.5 741.8 492.5 740.6C495.0 739.1 494.7 736.5 497.2 734.9C499.5 733.5 502.7 733.3 503.9 733.5C505.1 733.7 506.1 735.2 506.8 736.8C507.9 739.3 507.8 740.7 508.3 743.4C508.6 744.9 508.1 745.9 508.7 747.3C509.4 749.0 511.5 751.1 511.5 751.1C511.5 751.1 515.3 747.3 518.2 745.3C520.3 743.9 521.7 743.8 523.9 742.5C527.0 740.7 528.2 739.1 531.5 737.7C533.7 736.8 536.1 736.3 537.3 736.8C538.5 737.3 539.8 739.5 541.1 741.5C542.8 744.2 544.6 747.6 545.8 750.1C546.5 751.5 546.9 753.7 546.8 753.9C546.7 754.1 542.6 756.8 542.6 756.8C542.6 756.8 546.3 756.3 548.7 755.8C551.8 755.2 554.7 754.8 556.3 753.9C557.9 753.0 563.7 746.8 564.9 746.3C566.1 745.8 571.9 747.1 572.5 746.9C573.1 746.7 574.4 743.4 574.4 743.4C574.4 743.4 571.0 742.4 569.7 740.6C568.5 739.0 568.0 737.6 568.7 735.8C569.5 733.7 571.5 731.6 573.5 730.1C575.5 728.6 580.7 725.4 583 724.9C585.3 724.4 589.1 726.9 590.6 726.3C592.1 725.7 597.9 719.2 597.9 719.2C597.9 719.2 604.1 722.6 604.4 723.4C604.7 724.2 602.8 731.1 603.6 733.9C604.4 736.7 608.0 740.1 609.7 742.5C611.4 744.9 614.5 749.2 614.5 749.2C614.5 749.2 610.3 751.0 609.7 752C609.1 753.0 609.7 756.8 609.7 756.8M640 745C640.0 745.0 635.8 744.9 634.5 745.7C633.2 746.5 634.1 748.6 632.6 749.2C631.1 749.8 626.6 749.7 623 750.7C619.8 751.6 618.4 752.5 615.4 753.9C613.1 755.0 611.3 754.8 609.7 756.8C607.6 759.3 608.1 762.5 605.9 765.4C604.2 767.6 602.7 768.0 600.2 769.2C598.0 770.3 596.6 770.0 594.4 771.1C592.6 772.0 592.4 773.5 590.6 774.3C587.7 775.5 586.0 775.0 583 775.8C580.3 776.5 578.4 776.5 576.3 778.1C574.8 779.3 575.4 780.9 574.4 782.5C573.5 783.9 571.9 784.1 571.6 785.4C571.3 786.7 572.5 790.1 572.5 790.1M572.5 790.1C572.5 790.1 573.1 792.6 574.4 793.4C576.7 794.8 578.6 794.0 581.1 795.3C582.9 796.2 584.1 796.8 584.9 798.7C586.1 801.7 586.1 803.8 585.9 807.3C585.8 809.4 584.2 810.0 584 812.1C583.6 815.5 583.8 817.3 584.5 820.6C584.9 822.5 586.1 824.6 586.8 825C587.5 825.4 597.2 828.4 598.3 828.8C599.4 829.2 604.0 832.4 605.9 832.7C607.8 833.0 615.4 832.3 617.3 832.1C619.2 831.9 624.9 830.7 624.9 830.7C624.9 830.7 625.1 828.0 624.6 826.4C624.0 824.3 621.9 823.6 622.1 821.6C622.3 819.6 625.1 816.7 625.9 814C626.7 811.3 627.1 805.4 627.8 803.5C628.3 802.1 629.2 801.2 630.7 801C632.8 800.8 640.0 802.2 640 802.2M572.5 790.1C572.5 790.1 561.1 788.2 561.1 788.2C561.1 788.2 562.0 795.9 562 795.9C562.0 795.9 557.7 796.1 556.3 796.4C554.9 796.7 546.5 798.7 544.9 799.1C543.3 799.5 533.4 802.2 533.4 802.2C533.4 802.2 529.6 788.2 529.6 788.2C529.6 788.2 526.8 779.1 526.8 779.1C526.8 779.1 523.9 780.1 522 780.6C519.0 781.4 516.9 781.5 514.4 782.5C511.9 783.5 507.3 786.1 504.8 787.3C502.3 788.5 500.5 790.3 497.2 791.1C495.0 791.7 493.8 790.4 491.5 790.7C488.7 791.1 487.5 792.1 484.8 793C482.5 793.8 481.0 793.5 479.1 794.9C477.7 795.9 477.3 797.0 477.2 798.7C477.0 801.6 477.0 805.8 478.2 808.3C479.4 810.8 482.2 810.6 483.9 813C485.0 814.6 485.1 816.5 484.8 817.8C484.5 819.1 483.3 819.7 482 820.6C480.4 821.6 472.4 826.0 472.4 826C472.4 826.0 473.7 829.6 474.3 832.1C474.9 834.7 474.5 836.2 475.3 838.8C476.2 841.4 478.5 844.9 478.5 844.9C478.5 844.9 473.4 850.0 473.4 850M640 645.3C640.0 645.3 645.7 642.8 648.6 641.5C651.5 640.2 655.6 639.0 658.1 637.1C660.6 635.2 661.1 632.4 663.8 630C666.1 628.0 667.9 627.8 670.5 626.2C672.8 624.8 673.7 623.6 676.2 622.4C678.3 621.3 679.6 621.1 681.9 620.5C684.2 619.9 689.7 618.9 692.4 618C695.1 617.1 697.5 615.5 701 614.2C703.6 613.2 705.1 613.2 707.7 612.3C710.0 611.5 713.4 610.0 713.4 610M681.9 620.5C681.9 620.5 682.4 623.6 683.5 625.3C684.8 627.5 687.7 630.0 687.7 630C687.7 630.0 686.3 632.6 684.8 633.8C682.8 635.4 680.9 635.1 679.1 636.7C678.2 637.5 678.0 639.3 678.1 639.5C678.2 639.7 679.6 641.4 681 642C683.5 643.2 687.2 643.3 687.7 643.9C688.2 644.5 688.0 647.6 688.6 650C689.2 652.4 689.1 653.8 690.5 655.8C691.9 657.9 695.3 659.9 695.3 659.9C695.3 659.9 690.3 662.0 687.7 664.3C686.0 665.8 685.6 667.0 684.8 669.1C684.1 670.9 684.5 672.1 683.8 673.9C683.2 675.3 681.6 677.1 681.6 677.1C681.6 677.1 685.5 678.6 687.7 680.2C689.5 681.4 691.5 684.0 691.5 684M691.5 684C691.5 684.0 700.0 682.4 700 682.4C700.0 682.4 712.4 676.3 712.4 676.3C712.4 676.3 717.1 675.1 720.1 673.9C722.8 672.8 724.3 672.3 726.7 670.6C728.9 669.1 729.7 668.1 731.5 666.2C733.1 664.6 734.4 662.2 735.3 661.9C736.2 661.6 738.6 663.3 741 663.4C744.1 663.5 745.8 663.5 748.7 662.4C751.0 661.5 751.9 660.5 753.4 658.6C754.7 657.0 754.2 655.5 755.3 653.8C756.5 651.9 757.4 651.2 759.1 649.7C761.7 647.4 763.1 646.4 765.8 644.3C767.7 642.9 770.2 640.9 770.6 640.9C771.0 640.9 774.0 643.2 776.3 644.7C778.2 645.9 779.0 646.8 781.1 647.7C782.9 648.4 783.9 648.8 785.8 648.7C788.0 648.5 794.1 647.6 796.3 646.6C798.5 645.6 798.7 643.2 801.1 642C803.5 640.8 805.1 640.9 807.8 640.9C810.5 640.9 814.4 641.8 814.4 641.8C814.4 641.8 814.3 646.2 813.9 649.1C813.5 651.8 813.4 653.2 812.5 655.8C811.7 658.2 811.3 659.5 809.7 661.5C807.8 663.8 805.7 663.8 803.9 666.2C802.5 667.9 802.0 671.4 802 671.4C802.0 671.4 805.8 673.5 805.8 673.5C805.8 673.5 820.1 676.1 820.1 676.1C820.1 676.1 828.2 673.3 830.6 672.9C833.0 672.5 835.2 673.2 838.3 672.9C841.4 672.6 843.7 672.8 845.9 671.4C847.9 670.1 847.0 667.9 848.7 666.2C850.2 664.7 852.8 663.9 853.5 663.9C854.2 663.9 855.4 665.1 856.4 666.2C857.4 667.4 857.3 668.4 858.3 669.5C859.2 670.5 859.8 671.1 861.1 671.4C863.7 672.1 866.9 672.0 867.8 672C868.7 672.0 880.0 671.0 880 671M691.5 684C691.5 684.0 689.8 687.7 688.6 690.1C687.5 692.4 686.0 693.9 685.8 695.8C685.6 697.5 686.5 698.4 687.7 699.6C689.6 701.6 692.4 703.9 695.3 705.9C697.8 707.6 700.1 707.4 702 709.5C703.5 711.1 703.5 712.6 703.3 714.8C703.1 716.6 702.4 717.5 701 718.7C699.4 720.1 698.2 720.3 696.2 720.9C694.4 721.4 692.8 721.8 691.5 721.5C690.4 721.3 689.8 719.6 689.6 719.6C689.4 719.6 687.0 720.0 686.7 720.9C686.4 721.8 685.8 730.5 685.8 730.5C685.8 730.5 683.1 728.5 681 727.6C679.2 726.8 678.2 726.4 676.2 726.3C673.2 726.1 671.5 725.9 668.6 726.7C666.1 727.3 664.8 728.0 662.9 729.7C661.8 730.7 661.5 731.6 661.4 733C661.3 734.8 662.6 737.1 662.5 737.3C662.4 737.5 660.7 739.2 659.1 739.6C656.5 740.3 654.9 739.0 652.4 740C650.0 741.0 650.1 743.7 647.6 744.4C644.9 745.1 640.0 743.4 640 743.4M880 685.3C880.0 685.3 876.9 685.2 875.4 686.3C873.6 687.6 873.3 689.0 872.2 691C871.0 693.2 869.8 694.2 869.7 696.7C869.6 698.6 871.1 699.3 871.6 701.1C872.3 703.6 871.9 705.1 872.9 707.6C873.5 709.2 874.0 710.0 875.4 711C877.0 712.2 880.0 712.9 880 712.9M640 802.9C640.0 802.9 647.2 802.8 648.6 803.5C650.0 804.2 650.8 806.6 651.1 808.3C651.4 810.0 651.4 819.7 651.4 819.7C651.4 819.7 656.5 820.6 659.1 821.6C661.7 822.6 666.2 824.8 668.6 826.4C671.0 828.0 672.9 829.5 675.3 832.1C677.9 834.9 678.8 836.6 681 839.7C682.8 842.3 685.4 846.4 685.4 846.4M679.1 850C679.1 850.0 683.1 848.1 685.4 846.4C688.1 844.4 689.0 842.9 691.5 840.7C693.7 838.7 694.7 837.5 697.2 835.9C698.5 835.1 699.6 835.6 701 834.9C702.7 834.1 703.5 833.5 704.8 832.1C706.6 830.1 706.6 828.3 708.6 826.4C710.2 824.9 711.3 824.3 713.4 823.9C715.7 823.5 716.9 824.0 719.1 824.5C721.8 825.1 723.4 826.9 725.8 826.4C728.2 825.9 730.3 823.2 733.4 821.2C735.6 819.8 736.7 818.8 739.1 817.8C740.9 817.0 743.9 816.8 743.9 816.8M743.9 816.8C743.9 816.8 758.2 817.4 758.2 817.4C758.2 817.4 777.3 818.4 777.3 818.4C777.3 818.4 798.2 819.3 798.2 819.3C798.2 819.3 802.7 817.4 805.8 816.8C809.5 816.1 811.7 816.3 815.4 815.9C818.4 815.6 820.0 814.4 823 814.9C825.2 815.2 825.6 817.2 827.8 817.8C830.7 818.6 832.6 818.5 835.4 818.4C838.2 818.3 845.9 817.4 845.9 817.4C845.9 817.4 861.1 815.9 861.1 815.9C861.1 815.9 871.2 814.8 872.6 814.4C874.0 814.0 875.2 812.7 876.4 811.1C877.4 809.8 877.9 808.9 877.9 807.3C877.9 805.3 876.3 804.5 876.4 802.5C876.5 800.5 877.4 799.6 878.3 797.8C878.9 796.6 879.9 796.2 880 794.9C880.2 792.6 879.2 791.5 879.2 789.2C879.2 788.0 880.0 786.3 880 786.3M745.8 817.8C745.8 817.8 748.7 824.5 749.6 826.4C750.5 828.3 753.9 836.2 754.4 836.8C754.9 837.4 763.4 844.5 763.9 844.9C764.4 845.3 770.6 850.0 770.6 850M648.6 850C648.6 850.0 651.2 847.7 653.3 847.3C655.6 846.8 656.8 847.4 659.1 847.9C661.5 848.5 664.8 850.0 664.8 850M921 610C921.0 610.0 923.4 612.0 924.2 613.8C925.0 615.6 925.5 616.8 924.8 618.6C923.8 621.1 921.8 621.9 920 624.3C918.3 626.5 917.5 627.6 916.2 630C915.2 631.8 914.5 632.7 914.3 634.8C914.0 637.5 913.9 639.0 914.9 641.5C915.9 644.1 917.2 645.1 919.1 647.2C920.8 649.0 921.9 649.5 923.8 651C925.9 652.6 929.2 654.8 929.2 654.8C929.2 654.8 927.0 658.6 924.8 660.5C922.5 662.5 920.8 662.8 918.1 664.3C915.5 665.8 913.8 666.1 911.5 668.1C910.2 669.3 909.7 671.0 909.5 672C909.4 672.8 910.5 673.9 910.5 673.9M880 671.4C880.0 671.4 884.1 672.9 886.7 674.2C889.4 675.6 890.3 677.4 893.3 678.2C896.8 679.2 899.6 679.0 902.9 678.6C905.3 678.3 906.5 677.6 908.6 676.3C909.6 675.7 910.5 673.9 910.5 673.9C910.5 673.9 913.2 676.7 915.3 678.2C917.0 679.5 918.0 680.2 920 680.9C921.8 681.5 922.9 681.6 924.8 681.5C927.1 681.4 928.2 680.5 930.5 680.5C933.2 680.5 934.5 681.9 937.2 681.5C940.8 681.0 942.1 678.4 945.8 678.2C949.0 678.0 950.2 680.6 953.4 680.5C957.0 680.4 960.1 678.1 962 677.7C963.9 677.3 971.6 676.4 973.4 676.1C975.2 675.8 978.1 675.8 981 674.8C983.1 674.1 984.3 673.7 985.8 672C986.9 670.8 986.9 669.7 986.8 668.1C986.7 666.1 985.2 665.2 985.4 663.4C985.6 661.7 986.3 660.9 987.7 659.9C990.0 658.2 992.8 656.9 996.3 655.4C999.8 653.9 1002.5 653.3 1005.8 652.3C1008.8 651.3 1010.5 651.4 1013.4 650C1016.0 648.7 1016.6 647.0 1019.2 645.8C1021.7 644.7 1023.2 645.0 1025.8 644.3C1028.5 643.6 1030.1 643.9 1032.5 642.4C1034.2 641.3 1034.0 639.7 1035.4 638.2C1037.1 636.4 1037.9 635.4 1040.1 634.4C1042.9 633.2 1046.3 633.1 1049.7 631.9C1052.9 630.7 1054.3 629.6 1057.3 628.1C1059.6 627.0 1060.5 625.8 1063 625.3C1066.0 624.7 1067.6 624.9 1070.6 625.6C1073.9 626.4 1075.4 627.4 1078.3 629.1C1081.1 630.7 1082.0 632.3 1084.9 633.8C1087.2 635.0 1089.8 634.7 1091.2 635.7C1092.5 636.7 1091.3 638.4 1092.5 639.5C1093.9 640.8 1095.4 640.6 1097.3 641.5C1099.6 642.6 1103.0 644.3 1103 644.3C1103.0 644.3 1101.5 647.8 1100.2 650C1098.9 652.2 1096.4 655.2 1096.4 655.2C1096.4 655.2 1101.5 656.5 1104.9 657.7C1108.4 658.9 1110.2 659.4 1113.5 661.1C1116.3 662.6 1120.0 665.7 1120 665.7M880 684.3C880.0 684.3 883.9 682.1 886.7 680.9C889.3 679.8 893.3 678.6 893.3 678.6M880 712.9C880.0 712.9 884.3 712.6 886.7 713.9C889.5 715.4 890.0 717.4 892.4 719.6C895.0 722.0 896.7 722.7 899.1 725.3C901.3 727.7 901.8 729.4 903.8 732C905.7 734.5 908.6 738.0 908.6 738.1C908.6 738.2 905.5 741.6 904.4 744.4C903.4 746.9 903.9 748.5 903.3 751.1C902.7 753.8 902.8 755.4 901.4 757.7C900.4 759.4 897.6 760.2 897.5 760.6C897.4 761.0 898.7 763.4 898.7 765.4C898.7 768.5 898.7 770.1 897.5 773C896.6 775.3 895.4 776.0 893.7 777.8C892.2 779.5 891.5 780.5 889.5 781.6C887.1 782.9 885.5 782.5 882.9 783.5C881.6 784.0 880.0 785.4 880 785.4M880 789.2C880.0 789.2 881.5 792.0 881.5 794C881.5 795.6 880.0 797.8 880 797.8M372.5 850C372.5 850.0 368.4 855.6 366.8 856.7C365.2 857.8 357.9 860.3 356.3 861.4C354.7 862.5 352.3 865.4 349.7 868.1C347.4 870.6 344.0 874.4 344 874.4C344.0 874.4 349.7 878.6 349.7 878.6C349.7 878.6 347.8 882.4 347.8 882.4C347.8 882.4 345.4 882.2 344 881.5C342.6 880.8 342.6 879.4 341.1 879C339.6 878.6 338.7 878.9 337.3 879.5C335.5 880.3 327.8 884.7 327.8 884.7C327.8 884.7 315.4 891.0 315.4 891C315.4 891.0 312.5 891.7 310.6 891.6C307.5 891.4 301.1 890.0 301.1 890C301.1 890.0 303.8 893.0 305.8 894.8C308.0 896.7 309.6 897.1 311.5 899.2C313.1 900.9 313.4 902.2 314.4 904.3C315.4 906.5 315.6 907.7 316.3 910C317.0 912.3 317.7 913.4 317.8 915.8C317.9 918.9 317.0 920.3 316.7 923.4C316.3 927.2 316.7 930.4 315.9 932.9C315.1 935.4 311.8 940.4 310.6 942.5C309.4 944.6 306.8 949.1 306.8 949.1C306.8 949.1 298.2 961.1 298.2 961.1C298.2 961.1 297.9 964.8 297.3 967.2C296.6 969.8 295.0 970.8 295 973.5C295.1 976.4 297.6 983.4 297.6 983.4C297.6 983.4 298.2 996.8 298.2 996.8C298.2 996.8 295.3 1005.0 294.4 1007.3C293.5 1009.6 292.8 1013.5 290.6 1016.4C288.5 1019.3 286.1 1019.4 283.5 1021.9C281.9 1023.4 280.7 1024.2 280.1 1026.3C279.4 1028.9 279.9 1030.4 280.5 1033C281.3 1036.6 283.4 1038.0 283.5 1041.6C283.6 1045.2 281.0 1050.2 281 1050.2C281.0 1050.2 283.8 1051.7 285.8 1051.7C288.1 1051.7 293.5 1050.2 296.3 1050.2C299.1 1050.2 301.9 1051.1 303.9 1051.7C305.9 1052.3 312.4 1055.0 314.4 1055.9C316.4 1056.8 322.1 1059.7 322.4 1059.7C322.7 1059.7 325.5 1056.3 327.8 1054.4C329.2 1053.3 331.6 1052.1 331.6 1052.1C331.6 1052.1 345.9 1053.0 345.9 1053C345.9 1053.0 358.3 1051.7 358.3 1051.7C358.3 1051.7 371.6 1049.2 371.6 1049.2C371.6 1049.2 375.4 1044.1 375.4 1044.1C375.4 1044.1 374.5 1025.4 374.5 1025.4C374.5 1025.4 375.1 1022.0 376.4 1020.2C378.2 1017.6 380.0 1016.9 382.1 1014.5C384.2 1012.1 386.4 1008.8 386.8 1008.2C387.2 1007.6 393.0 998.4 393.5 997.7C394.0 997.0 400.0 988.2 400 988.2M316.3 910C316.3 910.0 327.8 910.0 327.8 910C327.8 910.0 340.1 904.3 340.1 904.3C340.1 904.3 343.2 903.3 344.9 904.3C347.0 905.6 348.3 907.4 349.7 910C351.4 913.0 351.3 915.0 352.5 918.2C353.6 921.1 353.6 922.8 355.4 925.3C356.4 926.7 358.6 927.4 359.2 927.2C359.8 927.0 365.7 923.0 367.8 920.9C369.9 918.8 371.0 916.3 373.5 913.5C375.6 911.2 376.7 909.9 379.2 908.1C381.3 906.6 382.4 905.6 384.9 905.3C388.0 905.0 389.6 905.9 392.6 906.6C395.6 907.3 400.0 908.7 400 908.7M380.2 1023.5C380.2 1023.5 381.5 1019.9 383 1017.8C384.6 1015.6 385.7 1014.7 387.8 1013C389.1 1012.0 391.6 1011.1 391.6 1011.1C391.6 1011.1 391.6 1014.1 390.7 1015.8C389.6 1018.0 388.6 1018.9 386.8 1020.6C385.1 1022.2 383.7 1023.2 382.1 1023.9C381.4 1024.2 380.2 1023.5 380.2 1023.5ZM400 1042.5C400.0 1042.5 395.4 1045.2 392.6 1047.3C389.8 1049.4 389.1 1051.4 385.9 1053C382.7 1054.6 380.7 1054.0 377.3 1054.9C374.8 1055.5 371.2 1056.8 371.2 1056.8C371.2 1056.8 373.6 1058.9 373.9 1059.7C374.2 1060.5 373.1 1062.5 373.1 1062.5C373.1 1062.5 371.0 1061.4 369.7 1060.6C367.7 1059.4 364.9 1057.4 364.9 1057.4C364.9 1057.4 350.6 1058.7 350.6 1058.7C350.6 1058.7 339.2 1060.6 339.2 1060.6C339.2 1060.6 340.5 1064.8 342 1067.3C343.9 1070.4 345.6 1071.7 347.8 1074.9C349.8 1077.9 350.7 1079.5 352.5 1082.6C354.1 1085.5 356.3 1090.0 356.3 1090M473.4 850C473.4 850.0 471.4 852.4 469.6 852.9C467.0 853.6 464.3 852.4 462.9 852.9C461.6 853.3 460.9 855.1 461 855.7C461.1 856.3 463.8 859.2 463.9 860.5C464.0 861.8 463.3 863.2 462 864.3C460.8 865.3 459.7 865.3 458.1 865.3C455.8 865.3 447.7 864.3 447.7 864.3C447.7 864.3 434.3 865.3 434.3 865.3C434.3 865.3 427.6 866.3 424.8 867.5C422.9 868.3 422.3 869.4 421 871C418.8 873.8 418.2 875.6 416.2 878.6C414.8 880.6 414.2 881.7 412.4 883.4C411.1 884.6 410.2 885.1 408.6 885.8C406.8 886.6 405.4 886.0 403.8 887.2C401.5 889.0 400.4 890.2 399.2 892.9C398.3 895.0 398.6 896.3 398.7 898.6C398.9 901.3 399.3 902.7 400 905.3C400.7 908.0 401.4 909.3 402.3 912C402.9 913.9 402.2 915.5 403.8 916.7C405.4 917.9 408.4 918.1 411.4 919C414.8 920.0 416.4 921.5 420 921.5C423.7 921.5 429.4 919.0 429.5 919C429.6 919.0 431.0 921.9 432.4 923.4C434.4 925.6 435.7 926.4 438.1 928.2C440.3 929.9 443.8 932.0 443.8 932C443.8 932.0 440.6 934.2 438.1 934.8C434.7 935.6 431.9 934.7 428.6 935.4C426.3 935.9 423.3 938.1 423.3 938.1C423.3 938.1 423.6 940.1 424.4 941.1C425.4 942.3 426.5 942.3 427.6 943.4C429.0 944.8 429.0 946.0 430.5 947.2C433.2 949.4 434.9 950.4 438.1 952C440.6 953.3 442.3 953.1 444.8 954.5C446.5 955.4 447.4 956.1 448.6 957.7C449.4 958.7 449.6 960.6 449.6 960.6M445.8 967.8C445.8 967.8 443.1 970.0 441 971C438.4 972.3 434.3 973.5 434.3 973.5C434.3 973.5 438.1 976.8 438.1 976.8C438.1 976.8 435.7 979.5 434.3 981.5C432.7 983.8 429.6 988.3 428.6 990.1C427.6 991.9 424.7 998.8 423.8 1000.6C422.9 1002.4 421.0 1006.3 419.1 1009.2C417.5 1011.7 416.3 1012.7 414.3 1014.9C412.9 1016.5 410.6 1018.6 410.5 1018.7C410.4 1018.8 408.6 1017.8 408.6 1017.8M408.6 1017.8C408.6 1017.8 407.3 1020.1 407.6 1021.6C408.1 1023.7 409.2 1024.5 410.5 1026.3C411.9 1028.2 412.8 1028.9 414.3 1030.7C415.5 1032.0 417.2 1034.0 417.2 1034C417.2 1034.0 412.5 1035.1 409.5 1036.4C407.1 1037.4 406.0 1038.3 403.8 1039.7C402.2 1040.6 400.0 1042.2 400 1042.2M410.5 1018.7C410.5 1018.7 412.1 1021.6 413.3 1023.5C414.4 1025.1 415.4 1025.6 416.2 1027.3C417.4 1029.8 417.5 1031.3 418.1 1034C418.6 1036.3 418.0 1037.7 419.1 1039.7C420.0 1041.3 421.0 1042.2 422.9 1042.5C425.0 1042.8 426.4 1041.8 428.6 1041.2C431.7 1040.3 433.0 1039.1 436.2 1038.7C438.1 1038.5 439.2 1038.9 441 1039.7C442.7 1040.5 443.1 1041.8 444.8 1042.5C447.3 1043.6 448.7 1044.0 451.5 1044.1C453.4 1044.2 454.6 1044.0 456.2 1042.9C458.5 1041.4 459.4 1040.1 461 1037.8C462.9 1034.9 463.1 1033.1 464.8 1030.1C466.2 1027.7 467.0 1026.6 468.6 1024.4C470.1 1022.3 472.4 1019.3 472.4 1019.3C472.4 1019.3 475.8 1021.2 478.2 1022.1C480.8 1023.1 482.1 1024.0 484.8 1023.9C487.3 1023.8 488.1 1022.3 490.5 1021.6C492.0 1021.2 494.4 1021.2 494.4 1021.2C494.4 1021.2 494.4 1026.0 494.9 1029.2C495.2 1030.8 495.3 1031.7 496.3 1033C497.1 1034.1 497.8 1034.6 499.1 1034.9C501.8 1035.5 508.7 1035.9 508.7 1035.9M508.7 1035.9C508.7 1035.9 512.2 1036.2 514.4 1036.8C516.7 1037.4 519.5 1038.3 520.1 1038.7C520.7 1039.1 520.8 1040.5 520.5 1041.6C520.0 1043.3 518.9 1043.8 518.2 1045.4C517.5 1047.1 518.1 1048.3 517.2 1049.8C515.8 1052.2 514.6 1053.5 512.5 1054.9C510.4 1056.3 504.1 1059.0 502.9 1059.7C501.7 1060.4 493.5 1065.1 492.5 1065.8C491.5 1066.5 488.9 1068.8 486.7 1071.1C485.0 1072.9 483.2 1074.2 482.9 1075.9C482.6 1077.6 484.0 1079.3 484.8 1081.6C485.6 1083.9 485.3 1085.4 486.7 1087.3C487.7 1088.7 488.9 1088.8 490.5 1089.2C493.1 1089.9 497.2 1090.0 497.2 1090M508.7 1035.9C508.7 1035.9 512.1 1033.5 514.4 1032C516.6 1030.6 517.6 1029.6 520.1 1028.8C523.4 1027.8 526.5 1028.3 529.6 1027.3C531.7 1026.6 532.4 1025.5 534.4 1024.4C536.6 1023.2 537.7 1022.4 540.1 1021.6C542.3 1020.9 543.9 1021.9 545.8 1020.6C547.9 1019.2 548.7 1015.8 549.6 1015.5C550.5 1015.2 553.6 1016.7 556.3 1016.8C559.4 1016.9 560.9 1016.6 563.9 1015.8C566.0 1015.2 567.6 1013.3 568.7 1013.4C569.8 1013.5 571.6 1015.4 573.5 1016.8C575.4 1018.2 576.0 1019.4 578.2 1020.2C581.1 1021.2 582.8 1020.6 585.9 1021.2C587.8 1021.6 589.3 1021.3 590.6 1022.5C591.9 1023.7 591.5 1026.3 592.5 1027.3C593.5 1028.3 595.0 1027.3 596.3 1028.2C597.9 1029.3 597.8 1030.7 599.2 1032C600.5 1033.2 602.5 1034.5 603 1034.5C603.5 1034.5 605.6 1033.3 606.8 1032C607.9 1030.7 608.6 1029.9 608.7 1028.2C608.8 1026.6 608.6 1025.5 607.4 1024.4C606.0 1023.2 604.0 1023.8 602.1 1022.5C600.2 1021.2 598.9 1020.4 598.3 1018.1C597.6 1015.4 599.4 1011.9 599.2 1011.1C599.0 1010.3 597.6 1009.7 596.3 1009.2C594.7 1008.5 588.0 1006.1 585.9 1005.4C583.8 1004.7 581.6 1004.9 579.2 1003.5C578.0 1002.8 577.3 1000.7 577.3 1000.6C577.3 1000.5 579.9 997.9 581.1 995.8C582.1 994.1 582.2 993.0 582.6 991.1C583.0 988.8 582.7 985.7 583 985.3C583.3 984.9 586.6 984.6 588.7 983.4C590.5 982.4 592.5 980.0 592.5 980M640 891C640.0 891.0 636.3 892.4 634.5 894.2C632.4 896.3 632.5 898.2 630.7 900.5C628.7 903.0 627.3 904.0 624.9 906.2C622.7 908.3 621.9 909.9 619.2 911.4C617.2 912.5 615.8 912.3 613.5 912.5C611.2 912.7 609.8 911.7 607.8 912.5C606.2 913.1 605.9 914.4 604.9 915.8C603.6 917.6 603.5 919.3 602.1 920.5C600.7 921.7 594.6 925.0 592.5 926.3C590.4 927.6 585.0 931.3 583 932.4C581.0 933.5 577.7 934.9 574.4 936.7C571.7 938.1 570.2 938.7 567.8 940.5C565.6 942.1 564.7 943.2 563 945.3C561.3 947.4 560.1 948.4 559.2 951C558.5 952.8 559.1 955.7 559.2 955.8C559.3 955.9 562.7 956.6 564.9 957.7C567.0 958.7 568.2 959.1 569.7 960.9C571.4 962.9 571.0 964.6 572.5 966.7C574.1 968.9 575.6 969.3 577.3 971.4C578.5 973.0 578.1 974.5 579.6 975.8C581.7 977.6 583.3 977.8 585.9 978.7C588.5 979.5 589.9 980.5 592.5 980C595.5 979.4 596.4 977.4 599.2 976.2C601.8 975.1 603.1 974.5 605.9 974.3C609.5 974.0 615.0 974.9 615 974.9C615.0 974.9 613.5 979.8 613.9 982.5C614.1 984.1 616.4 985.7 616.4 985.7C616.4 985.7 617.1 982.1 618.8 980.6C620.4 979.2 621.8 979.1 624 979.1C626.4 979.1 627.6 979.5 629.7 980.6C631.9 981.7 633.3 982.3 634.5 984.4C636.0 987.1 635.6 991.3 636 992C636.4 992.7 640.0 993.0 640 993M661 850C661.0 850.0 664.5 850.9 666.7 851.9C669.5 853.2 672.8 855.8 673.4 855.7C674.0 855.6 681.0 850.0 681 850M768.7 850C768.7 850.0 771.5 851.5 773.4 852.3C775.7 853.2 777.1 853.0 779.2 854.2C780.9 855.2 781.6 856.0 782.6 857.6C783.3 858.8 782.4 860.0 783.4 861.1C784.9 862.8 786.4 863.3 788.7 864.3C791.6 865.6 793.2 866.0 796.3 866.8C799.3 867.5 803.8 868.0 803.9 868.1C804.0 868.2 805.1 872.1 804.9 874.8C804.7 877.6 804.0 878.9 803 881.5C801.9 884.2 800.3 885.2 799.7 888.1C799.1 891.1 799.5 892.8 800.1 895.8C800.4 897.6 800.8 898.6 802 899.9C804.0 902.1 805.6 902.4 807.8 904.3C810.2 906.4 811.2 907.8 813.5 910C815.7 912.1 819.2 915.2 819.2 915.2M819.2 915.2C819.2 915.2 829.7 916.9 830.6 916.7C831.5 916.5 834.0 913.0 836.3 910.6C838.7 908.1 842.4 904.3 842.4 904.3C842.4 904.3 840.0 901.9 839.2 899.9C838.6 898.4 838.6 897.3 839.2 895.8C839.8 894.3 840.7 893.7 842.1 892.9C845.0 891.2 846.6 890.7 849.7 889.7C852.3 888.8 853.7 888.3 856.4 888.1C858.7 887.9 862.1 888.7 862.1 888.7C862.1 888.7 861.2 892.9 861.1 895.8C861.0 898.1 861.1 899.3 861.5 901.5C861.8 903.1 862.3 904.8 863 905.3C863.7 905.8 867.1 906.2 867.8 905.9C868.5 905.6 869.9 903.4 870.7 901.5C871.6 899.3 871.6 898.1 872.2 895.8C873.0 892.7 874.0 891.1 874.1 888.1C874.1 886.8 873.6 886.1 872.6 885.3C870.9 883.9 869.7 883.9 867.8 882.8C866.2 881.9 864.0 880.5 864 880.5C864.0 880.5 867.7 875.2 867.8 875.2C867.9 875.2 871.8 876.5 874.5 877.3C876.7 878.0 880.0 879.0 880 879M819.2 915.2C819.2 915.2 816.5 918.7 815.8 921.5C815.3 923.7 815.5 925.1 816.3 927.2C817.3 929.8 818.0 931.2 820.1 932.9C822.4 934.8 824.0 934.9 826.8 935.8C830.2 936.9 832.1 936.5 835.4 937.7C837.5 938.4 838.6 939.0 840.2 940.5C841.5 941.7 842.5 943.1 842.4 944.4C842.3 945.7 840.0 947.6 839.2 950.1C838.7 951.5 838.6 953.2 839.2 953.9C839.8 954.6 842.4 956.2 844.9 956.8C847.1 957.4 848.4 957.4 850.6 956.8C853.9 955.9 855.0 954.2 858.3 953.3C860.9 952.6 862.3 952.6 864.9 952.9C868.1 953.2 869.7 953.5 872.6 954.8C875.8 956.2 880.0 959.6 880 959.6M640 993.9C640.0 993.9 642.5 994.1 643.8 993.4C646.8 991.8 647.4 989.5 650.5 988.2C653.3 987.0 655.5 986.5 658.1 987.3C660.7 988.1 661.3 990.4 662.9 992C664.5 993.6 668.6 998.5 670.5 1000C672.4 1001.5 674.8 1003.1 678.1 1004C681.8 1005.0 683.9 1004.8 687.7 1004.4C691.6 1004.0 693.8 1003.8 697.2 1002.1C700.5 1000.5 702.7 996.9 704.4 996.4C706.1 995.9 708.0 998.1 710.5 998.3C713.6 998.6 715.1 997.4 718.2 997.7C721.3 998.0 723.9 1000.1 725.8 999.6C727.7 999.1 730.3 995.1 733.4 993.4C736.2 991.8 737.9 991.9 741 991.1C744.1 990.3 746.0 990.5 748.7 989.2C749.9 988.6 750.7 987.4 750.6 986.3C750.5 985.2 748.3 981.5 748.3 981.5C748.3 981.5 751.6 979.9 752.9 980.2C754.2 980.5 754.7 982.3 756.3 983.1C759.2 984.4 761.1 983.9 763.9 985.3C766.1 986.4 767.5 987.0 768.7 989.2C770.4 992.3 769.1 994.6 770.6 997.7C771.8 1000.1 774.0 1000.2 775.3 1002.5C776.9 1005.3 776.2 1007.3 777.6 1010.1C778.7 1012.3 781.1 1013.9 781.4 1014.9C781.7 1015.9 779.7 1016.8 780.1 1018.1C780.6 1019.9 781.9 1022.2 783.9 1024.4C785.5 1026.1 786.5 1027.0 788.7 1027.7C792.0 1028.7 793.9 1029.3 797.3 1028.6C800.4 1027.9 801.3 1026.1 803.9 1024.4C806.6 1022.6 807.6 1020.9 810.6 1019.7C813.8 1018.4 815.7 1018.2 819.2 1018.1C821.9 1018.0 823.4 1018.2 825.9 1019.3C827.4 1020.0 828.3 1020.9 828.7 1022.5C829.1 1024.1 828.7 1025.5 827.8 1027.3C826.7 1029.5 824.9 1029.8 824 1032C823.3 1033.6 824.0 1036.4 824 1036.4M880 983.4C880.0 983.4 878.3 988.2 876.4 991.1C874.5 994.0 873.2 995.3 870.7 997.7C868.2 1000.0 864.0 1002.9 864 1002.9C864.0 1002.9 866.5 1005.2 866.8 1007.3C867.3 1010.3 867.0 1012.8 865.9 1014.9C864.8 1016.9 863.0 1016.6 861.1 1017.8C858.8 1019.2 855.9 1021.1 855.4 1021.2C854.9 1021.3 843.4 1023.3 843 1023.5C842.6 1023.7 840.8 1025.9 839.2 1027.3C837.0 1029.3 836.0 1030.5 833.5 1032C831.0 1033.5 826.9 1034.8 824 1036.4C821.1 1038.0 817.6 1039.7 815.4 1041.6C813.7 1043.0 813.2 1044.2 812.5 1046.3C811.3 1049.6 811.3 1051.5 810.6 1054.9C810.0 1057.6 809.4 1058.9 809.3 1061.6C809.2 1063.9 808.9 1065.3 810 1067.3C811.1 1069.3 813.9 1070.0 814.4 1071.1C814.9 1072.2 814.4 1074.2 813.5 1075.9C812.1 1078.5 810.7 1079.4 808.7 1081.6C806.9 1083.6 805.6 1084.3 803.9 1086.4C802.9 1087.7 802.0 1090.0 802 1090M880 879.5C880.0 879.5 891.4 883.4 891.4 883.4C891.4 883.4 905.7 888.1 905.7 888.1C905.7 888.1 908.6 888.9 910.5 888.7C913.6 888.4 915.0 887.1 918.1 886.8C920.5 886.5 921.9 886.4 924.2 887.2C925.9 887.8 926.7 888.5 927.7 890C929.4 892.3 930.5 896.2 932.4 898.6C933.8 900.3 935.8 899.7 937.2 901.5C938.7 903.4 939.2 904.8 939.1 907.2C939.0 909.8 938.2 911.1 936.8 913.3C935.1 915.8 933.6 916.5 931.5 918.6C929.8 920.3 927.3 922.9 927.3 923C927.3 923.1 929.1 926.7 930.5 929.1C931.6 930.9 931.9 932.0 933.4 933.5C934.3 934.4 935.0 934.5 936.2 934.8C938.2 935.2 943.6 936.0 946.7 936.4C949.8 936.8 954.3 938.2 956.3 937.7C958.3 937.2 960.3 932.7 961.6 932.5C962.9 932.3 968.1 934.0 971.5 934.8C974.9 935.6 978.6 935.8 980.1 936.7C981.6 937.6 980.5 940.0 982 941.5C983.5 943.0 985.8 943.7 986.8 943.4C987.8 943.1 992.5 938.3 992.5 938.3C992.5 938.3 1011.5 939.6 1011.5 939.6C1011.5 939.6 1030.6 941.5 1030.6 941.5C1030.6 941.5 1042.6 936.2 1042.6 936.2C1042.6 936.2 1043.6 950.1 1043.6 950.1C1043.6 950.1 1044.0 952.0 1044.9 952.9C1046.6 954.6 1047.4 955.8 1049.7 956.4C1052.9 957.2 1056.0 955.9 1059.2 956.4C1061.3 956.7 1062.4 957.3 1064 958.7C1066.7 961.0 1067.1 964.1 1069.7 965.3C1072.3 966.5 1076.3 964.4 1079.2 965.7C1082.1 967.0 1085.5 972.6 1085.5 972.6C1085.5 972.6 1098.3 959.6 1098.3 959.6C1098.3 959.6 1114.5 949.5 1114.5 949.5C1114.5 949.5 1116.4 964.4 1116.4 964.4C1116.4 964.4 1120.0 965.3 1120 965.3M880 960.2C880.0 960.2 882.1 961.9 882.9 963.4C884.0 965.5 884.8 966.7 884.8 969.1C884.8 970.8 882.9 973.0 882.9 973C882.9 973.0 886.0 975.5 886.1 975.8C886.2 976.1 885.7 978.3 884.8 979.6C883.2 981.8 880.0 984.4 880 984.4M356.3 1088.6C356.3 1088.6 356.7 1094.3 356.3 1098.1C355.9 1101.3 356.0 1103.1 354.3 1105.8C352.8 1108.2 350.8 1108.1 348.6 1109.9C347.0 1111.2 346.1 1111.8 344.8 1113.4C343.8 1114.7 342.9 1116.4 342.9 1117.2C342.9 1118.0 343.6 1119.4 344.8 1120C347.2 1121.2 348.7 1121.5 351.5 1121.6C353.5 1121.7 354.5 1121.4 356.3 1120.6C358.7 1119.6 362.0 1117.2 362 1117.2C362.0 1117.2 375.3 1115.3 375.3 1115.3C375.3 1115.3 387.0 1114.0 387.7 1113.9C388.4 1113.8 392.9 1112.4 396.3 1111.1C398.6 1110.2 399.9 1110.0 402 1108.6C403.8 1107.4 404.3 1106.3 405.8 1104.8C407.7 1102.8 408.3 1101.3 410.6 1099.7C412.6 1098.3 414.0 1098.3 416.3 1097.7C418.5 1097.1 419.7 1096.6 422 1096.8C425.5 1097.1 427.2 1098.0 430.6 1099.1C433.7 1100.2 435.1 1101.2 438.2 1102.3C440.8 1103.2 442.1 1103.8 444.9 1104.2C447.2 1104.5 449.6 1104.6 450.6 1104.2C451.6 1103.8 452.4 1102.5 452.5 1101C452.6 1099.0 451.7 1096.7 451.2 1096.2C450.7 1095.7 448.5 1095.9 446.8 1095.3C445.7 1094.9 444.3 1093.9 444.3 1093.9C444.3 1093.9 447.9 1093.8 449.7 1092.4C451.5 1091.0 451.4 1089.5 452.5 1087.6C453.3 1086.3 454.0 1084.6 454.4 1084.4C454.8 1084.2 458.2 1084.8 458.2 1084.8C458.2 1084.8 457.1 1087.6 457.3 1089.5C457.5 1091.2 458.0 1092.2 459.2 1093.4C460.4 1094.6 463.0 1095.3 463 1095.3C463.0 1095.3 460.0 1096.4 459.2 1098.1C458.3 1100.2 458.3 1102.2 458.8 1104.8C459.1 1106.5 460.0 1107.2 461.1 1108.6C462.1 1109.9 462.5 1110.8 464 1111.5C467.0 1113.0 469.3 1113.2 472.5 1114.3C475.7 1115.4 481.5 1117.7 482.1 1117.8C482.7 1117.9 494.5 1120.0 494.5 1120C494.5 1120.0 489.1 1121.7 485.9 1122.5C484.4 1122.8 483.2 1123.1 482.1 1122.9C481.0 1122.7 471.0 1120.1 470.6 1120C470.2 1119.9 458.6 1117.2 458.2 1117.2C457.8 1117.2 448.8 1117.6 448.7 1117.6C448.6 1117.6 448.6 1115.9 447.8 1115.3C446.4 1114.3 444.9 1114.1 443 1113.4C441.1 1112.7 434.7 1110.8 432.5 1109.9C430.3 1109.0 428.0 1107.4 424.9 1105.8C421.9 1104.2 418.2 1102.0 417.3 1101.9C416.4 1101.8 413.4 1104.8 413.4 1104.8C413.4 1104.8 419.5 1106.8 421.1 1107.7C422.7 1108.6 430.6 1114.3 430.6 1114.3C430.6 1114.3 442.0 1123.9 442 1123.9C442.0 1123.9 447.9 1131.7 448.7 1133.4C449.5 1135.1 450.6 1142.9 450.6 1142.9C450.6 1142.9 452.5 1157.2 452.5 1157.2C452.5 1157.2 453.9 1175.3 453.9 1175.3C453.9 1175.3 448.7 1187.7 448.7 1187.7C448.7 1187.7 443.9 1205.8 443.9 1205.8C443.9 1205.8 435.4 1219.2 435.4 1219.2C435.4 1219.2 433.8 1224.3 431.5 1226.8C429.4 1229.0 424.9 1230.6 424.9 1230.6C424.9 1230.6 428.2 1233.1 430.6 1234.4C432.8 1235.6 433.9 1236.2 436.3 1236.9C438.5 1237.6 440.2 1236.5 442 1237.9C444.4 1239.7 445.5 1241.8 446.8 1244.9C448.2 1248.4 448.5 1250.8 448.7 1254.4C448.9 1257.5 447.8 1262.1 447.8 1262.1M447.8 1262.1C447.8 1262.1 446.4 1268.6 445.8 1271.6C445.2 1274.6 443.9 1279.8 443.9 1282.1C443.9 1284.1 445.4 1286.6 445.8 1286.8C446.2 1287.0 449.3 1287.2 451.6 1286.8C454.7 1286.2 459.2 1284.4 459.2 1284.4C459.2 1284.4 458.2 1290.7 458.2 1290.7C458.2 1290.7 454.2 1290.9 451.6 1291.6C450.0 1292.0 448.8 1292.1 447.8 1293.5C446.2 1295.7 445.5 1300.0 445.5 1300M447.8 1262.1C447.8 1262.1 450.5 1265.6 452.5 1265.9C454.5 1266.2 456.4 1264.0 459.2 1264C461.3 1264.0 462.3 1264.7 464 1265.9C466.7 1267.9 468.0 1269.8 470.6 1272.5C472.9 1274.8 476.3 1278.3 476.3 1278.3C476.3 1278.3 478.5 1275.6 480.2 1275.4C481.9 1275.2 483.6 1276.5 485.9 1277.3C488.2 1278.1 489.1 1279.6 491.6 1279.6C494.1 1279.6 495.8 1279.1 497.3 1277.3C498.8 1275.5 498.0 1273.1 499.2 1270.6C500.3 1268.4 501.4 1267.7 503 1265.9C504.4 1264.4 505.4 1263.9 506.8 1262.4C508.5 1260.7 508.6 1259.1 510.7 1257.9C513.4 1256.3 520.0 1254.8 520 1254.8M486.3 1088.2C486.3 1088.2 490.7 1088.6 493.5 1089.5C496.4 1090.4 503.0 1093.4 503 1093.4C503.0 1093.4 515.8 1096.2 515.8 1096.2C515.8 1096.2 517.3 1095.3 517.5 1094.3C517.7 1093.1 516.9 1090.6 516.9 1090.5C516.9 1090.4 517.9 1089.7 518.7 1089.5C519.2 1089.4 520.0 1089.9 520 1089.9M519.1 1090C519.1 1090.0 521.2 1092.1 523 1092.9C525.5 1094.0 526.9 1094.5 529.6 1094.8C532.3 1095.1 533.7 1094.8 536.3 1094.2C539.1 1093.5 540.2 1092.1 543 1091.5C546.0 1090.8 549.3 1090.4 550.6 1091C551.9 1091.6 558.1 1097.1 559.2 1098.6C560.3 1100.1 560.7 1103.2 562 1106.2C562.7 1107.8 563.9 1108.3 564.3 1110C564.6 1111.2 563.6 1112.9 563.6 1112.9C563.6 1112.9 568.3 1114.4 569.7 1115.7C570.8 1116.8 570.9 1118.0 570.6 1119.5C570.1 1121.7 568.8 1122.3 567.8 1124.3C566.8 1126.4 565.5 1129.7 565.5 1129.7C565.5 1129.7 569.2 1130.9 571.6 1131.9C574.1 1133.0 578.3 1135.4 581.1 1136.3C583.9 1137.2 585.7 1136.6 588.7 1137.3C591.1 1137.9 592.2 1138.5 594.4 1139.6C597.0 1140.9 600.5 1143.4 600.5 1143.4M600.5 1143.4C600.5 1143.4 605.9 1142.0 607.8 1141.9C609.7 1141.8 617.3 1142.0 619.2 1142C621.1 1142.0 623.8 1140.8 626.8 1141.5C629.1 1142.0 629.5 1143.8 631.6 1144.9C633.4 1145.9 634.4 1146.2 636.4 1146.6C637.8 1146.9 640.0 1146.8 640 1146.8M600.5 1143.4C600.5 1143.4 603.4 1147.2 604.9 1150C606.5 1153.0 607.3 1154.5 608.2 1157.7C608.8 1159.9 609.0 1161.1 608.7 1163.4C608.5 1164.9 608.1 1166.2 606.8 1166.8C605.5 1167.4 599.2 1168.4 596.3 1169.1C593.4 1169.8 587.5 1171.1 585.9 1172C584.3 1172.9 584.2 1176.2 583 1176.7C581.8 1177.2 573.6 1176.9 572.5 1177.3C571.4 1177.7 570.8 1179.7 570 1181.5C569.2 1183.3 568.7 1186.3 568.7 1186.3C568.7 1186.3 564.8 1184.6 562 1184.4C560.1 1184.2 558.9 1184.3 557.3 1185.3C555.7 1186.3 555.1 1187.3 554.4 1189.1C553.6 1191.1 553.5 1194.5 553.5 1194.5C553.5 1194.5 547.5 1193.7 547.2 1193.9C546.9 1194.1 544.9 1197.8 543.9 1200.6C543.4 1202.0 542.9 1203.0 543.4 1204.4C544.1 1206.1 545.3 1206.8 546.8 1208.2C548.2 1209.5 549.1 1209.9 550.6 1211C552.1 1212.1 552.6 1213.2 554.4 1213.9C557.3 1215.0 559.1 1214.4 562 1215.4C564.1 1216.1 565.3 1216.5 566.8 1218.1C568.5 1219.8 569.1 1221.1 569.7 1223.4C570.4 1226.4 570.2 1229.4 570 1231.1C569.8 1232.8 568.3 1240.7 567.8 1242.5C567.3 1244.3 565.4 1247.8 563.9 1251.1C562.8 1253.5 561.1 1257.2 561.1 1257.2C561.1 1257.2 556.1 1254.4 552.5 1253.6C548.8 1252.7 546.8 1253.4 543 1253C539.9 1252.7 537.1 1251.9 535.3 1252C533.5 1252.1 525.4 1253.4 523.9 1253.6C522.4 1253.8 519.1 1254.3 519.1 1254.3M445.8 1299.7C445.8 1299.7 443.9 1305.8 442.9 1309.2C442.0 1312.2 440.2 1314.2 440.6 1316.8C441.0 1319.4 443.2 1320.2 444.8 1322.6C446.0 1324.4 446.7 1325.3 447.7 1327.3C448.2 1328.3 448.6 1330.0 448.6 1330M640 1146.8C640.0 1146.8 642.1 1145.2 643.8 1144.9C646.1 1144.5 647.3 1144.9 649.5 1145.3C652.2 1145.8 653.8 1145.8 656.2 1147.2C658.9 1148.8 659.2 1150.9 661.9 1152.5C664.6 1154.1 669.1 1155.2 671.5 1156.1C673.9 1157.0 681.1 1159.8 681.9 1160C682.7 1160.2 693.6 1161.0 694.3 1161.1C695.0 1161.2 698.4 1162.0 701 1163C704.1 1164.1 705.8 1165.1 708.6 1166.3C711.4 1167.5 718.2 1170.4 718.2 1170.4C718.2 1170.4 733.4 1170.6 733.4 1170.6C733.4 1170.6 743.9 1172.8 744.8 1172.9C745.7 1173.0 756.8 1173.0 757.2 1172.9C757.6 1172.8 759.3 1169.9 761 1168.2C762.8 1166.4 763.6 1165.4 765.8 1164C768.3 1162.4 769.9 1162.3 772.5 1160.9C775.2 1159.5 776.7 1158.9 779.2 1157.1C780.7 1156.0 781.8 1155.6 782.6 1153.9C783.5 1152.0 782.9 1149.2 783.4 1148.7C783.9 1148.2 787.8 1147.7 790.6 1146.8C793.7 1145.8 797.3 1144.3 800.1 1143.4C802.3 1142.7 803.5 1142.4 805.8 1141.9C808.5 1141.3 812.5 1140.5 812.5 1140.5C812.5 1140.5 813.5 1142.8 814.4 1144.3C815.6 1146.3 816.8 1146.9 817.7 1149.1C818.4 1150.9 817.2 1152.3 818.2 1153.9C819.5 1156.0 820.8 1156.5 823 1157.7C825.9 1159.2 828.1 1158.4 830.6 1160.5C832.6 1162.1 832.3 1164.0 833.5 1166.3C834.9 1169.0 835.5 1170.5 837.3 1172.9C838.9 1175.1 839.6 1176.7 842.1 1177.7C844.9 1178.8 846.7 1177.5 849.7 1177.7C852.0 1177.9 853.1 1178.6 855.4 1178.6C858.9 1178.6 860.6 1178.4 864 1177.7C866.8 1177.1 868.2 1176.8 870.7 1175.4C872.1 1174.6 872.0 1173.0 873.5 1172.4C875.9 1171.4 880.0 1171.6 880 1171.6M803 1090C803.0 1090.0 800.3 1097.3 799.2 1099.5C798.5 1100.9 796.7 1102.4 796.7 1102.4C796.7 1102.4 799.2 1104.9 799.2 1105.3C799.2 1105.7 798.3 1107.7 797.3 1109.1C796.0 1110.9 793.5 1113.3 793.5 1113.3C793.5 1113.3 802.0 1118.2 802 1118.2C802.0 1118.2 811.6 1127.2 811.6 1127.2C811.6 1127.2 821.1 1136.3 821.1 1136.3C821.1 1136.3 829.3 1144.8 829.7 1145.3C830.1 1145.8 830.8 1148.9 832.5 1150.6C834.7 1152.8 839.1 1154.6 839.2 1154.8C839.3 1155.0 844.8 1166.1 844.9 1166.3C845.0 1166.5 847.5 1172.3 849.7 1174.8C851.5 1176.9 855.4 1178.6 855.4 1178.6M880 1199.6C880.0 1199.6 879.3 1203.7 878.3 1206.3C877.0 1209.7 875.3 1213.8 874.1 1214.9C872.9 1216.0 870.3 1216.1 867.8 1215.8C864.2 1215.3 862.7 1214.1 859.2 1213C855.8 1211.9 852.0 1210.5 850.6 1210.5C849.2 1210.5 848.7 1211.8 847.8 1213C846.3 1215.1 846.7 1216.9 844.9 1218.7C843.1 1220.5 841.6 1220.7 839.2 1221.5C837.0 1222.2 835.8 1222.5 833.5 1222.5C831.2 1222.5 830.1 1221.3 827.8 1221.5C825.0 1221.7 823.8 1222.7 821.1 1223.4C818.4 1224.1 814.8 1224.8 814.4 1225C814.0 1225.2 813.7 1226.9 813.9 1228.2C814.1 1230.2 815.4 1231.0 815.4 1233C815.4 1235.4 814.7 1236.5 813.9 1238.7C812.8 1241.8 812.0 1243.3 810.6 1246.3C809.5 1248.6 808.7 1249.6 807.8 1252C806.9 1254.2 807.5 1255.8 806.2 1257.8C804.9 1259.9 801.6 1263.8 799.2 1265.8C796.8 1267.8 790.6 1271.1 790.6 1271.1C790.6 1271.1 777.3 1279.7 777.3 1279.7C777.3 1279.7 774.1 1282.9 772.5 1285.4C771.0 1287.9 770.0 1290.4 769.6 1292.1C769.2 1293.8 768.5 1302.0 768.1 1303.5C767.7 1305.0 766.9 1305.9 765.8 1307.3C764.1 1309.4 763.1 1310.3 761 1312.1C759.2 1313.6 757.4 1313.6 756.3 1315.5C755.2 1317.3 756.8 1318.8 755.9 1320.7C755.0 1322.8 752.2 1324.3 752.1 1324.9C752.0 1325.5 754.4 1330.0 754.4 1330M880 1171.6C880.0 1171.6 884.6 1171.0 887.6 1171.2C889.6 1171.3 890.9 1172.7 892.4 1172.4C893.9 1172.1 895.6 1169.7 895.6 1169.7C895.6 1169.7 908.6 1173.3 908.6 1173.3C908.6 1173.3 926.7 1178.1 926.7 1178.1C926.7 1178.1 929.9 1181.5 929.9 1181.5C929.9 1181.5 927.9 1184.9 926.7 1187.2C925.7 1189.1 924.2 1192.0 924.2 1192C924.2 1192.0 925.5 1193.4 926.7 1193.9C928.3 1194.6 937.2 1197.3 937.2 1197.3C937.2 1197.3 950.5 1197.7 950.5 1197.7C950.5 1197.7 954.0 1196.8 956.3 1196.8C959.7 1196.8 962.4 1197.1 965.8 1197.7C968.2 1198.1 969.4 1198.5 971.5 1199.6C973.7 1200.8 974.6 1201.7 976.3 1203.4C978.0 1205.1 979.1 1206.0 980.1 1208.2C981.0 1210.1 980.3 1212.3 981 1213.5C981.6 1214.6 982.6 1214.7 983.9 1214.9C986.0 1215.2 991.8 1215.2 994.4 1215.4C996.7 1215.6 997.8 1216.4 1000.1 1216.4C1001.5 1216.4 1002.3 1216.2 1003.5 1215.4C1005.1 1214.4 1005.4 1213.3 1006.8 1212C1008.2 1210.7 1009.2 1210.4 1010.6 1209.1C1011.5 1208.3 1011.4 1207.3 1012.5 1206.7C1013.9 1205.9 1014.8 1205.7 1016.3 1205.9C1018.3 1206.2 1019.3 1206.9 1021.1 1207.8C1023.1 1208.8 1029.0 1211.6 1030.6 1213C1032.2 1214.3 1032.0 1215.8 1032.9 1217.7C1033.4 1218.8 1033.7 1220.4 1034 1220.6C1034.3 1220.8 1045.8 1224.4 1045.8 1224.4C1045.8 1224.4 1059.2 1228.8 1059.2 1228.8C1059.2 1228.8 1069.6 1232.2 1070.6 1232.6C1071.6 1233.0 1075.4 1235.8 1075.4 1235.8C1075.4 1235.8 1076.3 1234.5 1076.3 1234.5M892.4 1172.4C892.4 1172.4 889.8 1179.8 889.5 1180.5C889.2 1181.2 885.2 1191.3 884.8 1192C884.4 1192.7 880.0 1199.6 880 1199.6M1120 1221.2C1120.0 1221.2 1108.8 1222.5 1108.8 1222.5C1108.8 1222.5 1092.5 1225.3 1092.5 1225.3C1092.5 1225.3 1087.3 1227.4 1084 1229.2C1080.7 1231.0 1076.3 1234.5 1076.3 1234.5C1076.3 1234.5 1079.2 1241.9 1079.2 1241.9C1079.2 1241.9 1080.9 1241.2 1082.1 1241.2C1085.0 1241.2 1089.3 1241.9 1089.3 1241.9C1089.3 1241.9 1087.9 1246.8 1086.8 1250.1C1085.9 1252.8 1084.4 1254.0 1084.4 1256.8C1084.4 1258.9 1085.8 1259.7 1086.8 1261.6C1088.1 1264.1 1090.1 1267.7 1090.1 1267.7C1090.1 1267.7 1087.1 1269.8 1084.9 1269.8C1082.2 1269.8 1081.0 1268.4 1078.3 1267.9C1076.0 1267.5 1074.7 1267.0 1072.5 1267.7C1070.6 1268.3 1069.6 1269.3 1068.7 1271.1C1067.6 1273.2 1067.9 1274.5 1067.8 1276.8C1067.7 1279.1 1068.5 1280.2 1068.1 1282.5C1067.9 1283.8 1067.2 1285.0 1066.4 1285.4C1065.6 1285.8 1063.7 1285.8 1062 1285.4C1060.7 1285.1 1059.9 1284.7 1059.2 1283.5C1058.2 1281.8 1059.2 1280.4 1058.2 1278.7C1057.5 1277.5 1056.7 1277.0 1055.4 1276.8C1052.7 1276.3 1049.5 1276.2 1045.8 1276.4C1042.7 1276.6 1038.2 1277.8 1038.2 1277.8C1038.2 1277.8 1024.9 1280.6 1024.9 1280.6C1024.9 1280.6 1011.5 1283.5 1011.5 1283.5C1011.5 1283.5 1008.3 1284.7 1006.8 1286.3C1004.9 1288.3 1004.6 1289.8 1003 1292.1C1001.2 1294.7 1000.4 1296.1 998.2 1298.4C996.5 1300.1 994.6 1299.9 993.4 1302C992.0 1304.4 992.1 1308.8 992.1 1308.8C992.1 1308.8 998.2 1311.5 998.2 1311.5C998.2 1311.5 1012.5 1310.6 1012.5 1310.6C1012.5 1310.6 1017.1 1312.3 1020.1 1313.4C1022.2 1314.2 1025.3 1315.3 1025.3 1315.3C1025.3 1315.3 1025.0 1318.0 1024.5 1319.7C1024.1 1320.9 1023.0 1322.6 1023 1322.6C1023.0 1322.6 1025.3 1324.9 1026.8 1326.4C1028.3 1327.9 1030.6 1330.0 1030.6 1330M448.6 1330C448.6 1330.0 448.8 1334.6 448.6 1337.6C448.3 1341.1 447.9 1342.8 447.3 1346.2C446.8 1348.9 446.4 1350.2 445.8 1352.9C445.2 1355.5 445.2 1357.0 444.2 1359.5C442.9 1362.8 441.1 1365.0 440 1368.1C439.2 1370.3 440.3 1371.9 439.1 1373.8C437.3 1376.7 434.8 1377.2 432.4 1379.9C430.4 1382.2 428.3 1384.2 428.2 1386.2C428.1 1388.2 431.4 1391.7 431.5 1394.4C431.6 1397.1 428.6 1404.7 428.6 1404.7C428.6 1404.7 418.1 1412.4 418.1 1412.4C418.1 1412.4 420.6 1419.6 420.6 1419.6C420.6 1419.6 414.3 1432.0 414.3 1432C414.3 1432.0 405.7 1442.5 405.7 1442.5C405.7 1442.5 402.8 1445.6 401.9 1448.2C401.0 1450.7 401.5 1454.9 401.5 1454.9M401.5 1454.9C401.5 1454.9 403.2 1453.5 404.2 1453.9C405.2 1454.3 406.6 1456.2 408.6 1457.3C410.2 1458.2 411.2 1459.1 413 1458.7C415.3 1458.2 416.6 1456.2 419.1 1454.9C420.5 1454.1 421.5 1454.3 422.9 1453.5C425.4 1452.0 426.4 1449.7 428.6 1449.1C430.7 1448.5 431.9 1451.0 433.9 1450.5C435.9 1450.0 436.8 1447.2 439.1 1446.3C441.4 1445.4 446.6 1445.3 449.6 1444.4C452.6 1443.5 459.1 1440.2 459.1 1440.2C459.1 1440.2 475.3 1440.2 475.3 1440.2C475.3 1440.2 480.6 1435.6 482.9 1433.9C484.3 1432.8 486.1 1431.7 486.7 1431.6C487.3 1431.5 498.3 1430.5 499.1 1430.5C499.9 1430.5 509.7 1431.7 510.6 1432C511.5 1432.3 522.0 1436.8 522 1436.8C522.0 1436.8 534.4 1440.6 534.4 1440.6C534.4 1440.6 542.2 1439.7 544.9 1439.2C547.6 1438.7 549.1 1437.1 552.1 1437.1C555.4 1437.1 556.9 1438.3 560.1 1439.2C563.5 1440.1 569.7 1441.9 569.7 1441.9C569.7 1441.9 583.0 1440.2 583 1440.2C583.0 1440.2 596.3 1439.0 596.3 1439C596.3 1439.0 601.3 1441.2 604 1441.9C606.7 1442.6 611.7 1443.1 614.5 1444C617.3 1444.9 619.6 1446.2 623 1447.8C626.5 1449.4 628.3 1450.1 631.6 1452C634.9 1453.9 640.0 1457.3 640 1457.3M445.8 1352.9C445.8 1352.9 449.2 1354.7 451.5 1355.7C454.1 1356.8 455.7 1356.6 458.1 1358C461.1 1359.7 463.9 1363.3 465.8 1363.9C467.7 1364.5 475.1 1363.8 477.2 1364.3C479.3 1364.8 486.1 1368.5 486.7 1368.5C487.3 1368.5 491.0 1364.7 491.1 1364.7C491.2 1364.7 503.7 1363.4 503.9 1363.4C504.1 1363.4 514.5 1368.3 515.3 1368.5C516.1 1368.7 526.2 1370.4 527.3 1370.4C528.4 1370.4 533.6 1369.0 535.7 1367.6C537.2 1366.6 536.6 1364.9 537.6 1363.4C538.4 1362.2 538.8 1361.5 540.1 1360.9C543.0 1359.6 545.7 1359.2 548.7 1358.6C551.7 1358.0 556.7 1357.7 559.2 1357.3C561.5 1356.9 562.5 1355.7 564.9 1355.7C568.0 1355.7 571.7 1356.4 572.5 1357.1C573.3 1357.8 573.1 1361.6 574.4 1364.3C575.1 1365.8 575.9 1366.3 577.3 1367.2C579.8 1368.8 584.0 1370.4 584 1370.4C584.0 1370.4 598.3 1379.2 598.3 1379.2C598.3 1379.2 605.9 1381.1 605.9 1381.1C605.9 1381.1 622.1 1381.9 622.1 1381.9C622.1 1381.9 629.1 1377.8 631.6 1376.7C634.1 1375.6 640.0 1373.8 640 1373.8M640 1365.8C640.0 1365.8 642.1 1364.2 643.8 1363.9C647.2 1363.2 649.0 1363.8 652.4 1363.4C656.2 1363.0 659.0 1363.0 661.9 1362C663.8 1361.3 664.1 1359.8 665.7 1358.6C667.5 1357.3 668.5 1356.7 670.5 1355.7C672.3 1354.8 673.4 1354.6 675.3 1353.8C677.8 1352.8 681.8 1351.3 684.8 1350C687.8 1348.7 689.3 1347.5 692.4 1346.2C695.8 1344.7 697.6 1344.3 701 1343C704.4 1341.7 708.8 1340.0 709.6 1339.9C710.4 1339.8 721.2 1340.0 722 1340.1C722.8 1340.2 726.9 1342.4 729.6 1341.8C732.3 1341.2 735.5 1338.2 738.2 1336.7C740.4 1335.5 741.5 1334.7 743.9 1334.2C746.5 1333.7 747.9 1334.4 750.6 1334.2C752.5 1334.1 755.3 1333.4 755.3 1333.4M755.3 1330C755.3 1330.0 754.6 1332.3 755.3 1333.4C756.4 1335.1 758.1 1336.0 760.1 1337.6C762.0 1339.1 763.4 1339.3 764.9 1341.1C766.3 1342.8 766.6 1344.1 767.3 1346.2C768.3 1349.2 768.9 1350.7 769.2 1353.8C769.4 1356.1 768.2 1357.3 768.7 1359.5C769.5 1362.8 771.7 1364.4 772.5 1367.2C773.3 1370.0 773.5 1375.7 773.8 1377.7C774.1 1379.7 775.4 1387.4 775.7 1389.1C776.0 1390.8 777.3 1393.2 777.3 1395.8C777.3 1397.1 775.7 1397.3 775.7 1398.6C775.8 1401.4 776.7 1403.3 777.6 1406.3C778.5 1409.4 778.6 1411.1 780.1 1413.9C781.1 1415.8 783.9 1417.7 783.9 1417.7C783.9 1417.7 782.0 1421.1 782 1421.1C782.0 1421.1 779.4 1418.9 777.3 1418.1C775.1 1417.3 773.8 1417.3 771.5 1417.1C768.5 1416.9 766.9 1416.8 763.9 1417.1C761.6 1417.3 758.5 1418.2 758.2 1418.3C757.9 1418.4 747.0 1423.9 746.8 1424C746.6 1424.1 743.9 1424.9 743.9 1424.9C743.9 1424.9 731.5 1431.0 731.5 1431C731.5 1431.0 727.8 1433.8 726.7 1434.5C725.6 1435.2 716.3 1440.2 716.3 1440.2C716.3 1440.2 702.9 1447.6 702.9 1447.6C702.9 1447.6 691.5 1453.9 691.5 1453.9C691.5 1453.9 684.4 1459.9 682.9 1460.6C681.4 1461.3 680.0 1460.4 678.1 1460C675.4 1459.4 674.2 1458.5 671.5 1458.1C668.8 1457.7 667.5 1458.2 664.8 1458.1C662.1 1458.0 656.4 1457.9 654.3 1457.7C653.2 1457.6 651.9 1456.8 651.8 1456.8C651.7 1456.8 650.3 1459.4 649.5 1459.6C648.7 1459.8 646.6 1459.3 644.8 1458.7C643.4 1458.2 641.5 1456.8 641.5 1456.8C641.5 1456.8 645.3 1463.4 645.3 1463.4C645.3 1463.4 643.1 1461.9 641.9 1460.6C641.0 1459.6 640.0 1457.7 640 1457.7M783.9 1417.7C783.9 1417.7 788.1 1417.7 790.6 1416.7C793.5 1415.6 794.4 1413.7 797.3 1412.5C799.0 1411.8 802.0 1412.0 802 1412C802.0 1412.0 821.1 1411.6 821.1 1411.6C821.1 1411.6 840.2 1411.0 840.2 1411C840.2 1411.0 859.2 1410.4 859.2 1410.4C859.2 1410.4 848.7 1408.5 848.7 1408.5C848.7 1408.5 854.1 1405.9 855.4 1405.9C856.7 1405.9 866.8 1409.1 866.8 1409.1C866.8 1409.1 880.0 1413.5 880 1413.5M649.5 1465.7C649.5 1465.7 654.0 1467.3 657.2 1467.6C659.8 1467.8 661.3 1467.7 663.8 1466.9C666.7 1466.0 668.0 1465.1 670.5 1463.4C672.4 1462.1 674.7 1459.6 674.7 1459.6C674.7 1459.6 675.1 1462.1 674.3 1463.4C673.3 1465.2 672.3 1466.0 670.5 1466.9C667.7 1468.3 666.0 1468.7 662.9 1469.2C660.3 1469.6 658.9 1469.5 656.2 1469.2C653.9 1468.9 652.2 1468.5 650.5 1467.6C649.7 1467.2 649.5 1465.7 649.5 1465.7ZM880 1413.9C880.0 1413.9 884.6 1415.5 887.6 1416.7C890.3 1417.8 891.4 1419.0 894.3 1419.6C895.6 1419.9 897.5 1418.6 897.5 1418.6C897.5 1418.6 897.9 1416.1 897.2 1414.8C895.8 1412.2 894.4 1411.3 892.4 1409.1C890.7 1407.1 888.0 1404.3 888 1404.3C888.0 1404.3 893.1 1404.4 896.2 1403.4C899.1 1402.5 900.4 1401.4 902.9 1399.6C905.7 1397.6 906.8 1396.2 909.5 1393.9C911.8 1392.0 915.3 1389.1 915.3 1389.1C915.3 1389.1 913.9 1392.7 912.4 1394.8C910.4 1397.7 909.2 1399.0 906.7 1401.5C904.2 1404.0 902.0 1404.5 900 1407.2C898.9 1408.8 898.9 1410.1 899.1 1412C899.3 1414.0 899.9 1415.0 901 1416.7C902.2 1418.5 902.9 1419.5 904.8 1420.5C907.2 1421.8 913.6 1423.6 914.3 1424C915.0 1424.4 924.1 1430.4 924.8 1430.7C925.5 1431.0 930.0 1431.8 933.4 1432.9C936.5 1433.9 941.0 1435.8 941 1435.8C941.0 1435.8 956.3 1444.4 956.3 1444.4C956.3 1444.4 975.3 1455.2 975.3 1455.2C975.3 1455.2 990.6 1464.4 990.6 1464.4C990.6 1464.4 998.1 1468.6 1000.1 1470.1C1002.1 1471.6 1004.4 1473.6 1006.8 1476.4C1009.0 1479.0 1009.8 1480.6 1011.5 1483.5C1013.2 1486.4 1013.7 1488.1 1015.3 1491.1C1017.0 1494.4 1017.8 1496.6 1020.1 1499.7C1022.4 1502.7 1023.9 1505.0 1026.8 1506.3C1029.7 1507.6 1035.0 1506.5 1035.4 1506.3C1035.8 1506.1 1037.3 1501.6 1037.3 1501.6M1030.6 1330C1030.6 1330.0 1031.6 1333.5 1032.5 1335.7C1033.5 1338.2 1034.0 1339.5 1035.4 1341.8C1037.1 1344.6 1039.3 1347.1 1041.1 1350C1042.8 1352.6 1044.7 1355.5 1044.9 1356.7C1045.1 1357.9 1044.4 1359.3 1043 1359.9C1041.6 1360.5 1032.6 1362.3 1032.5 1362.4C1032.4 1362.5 1031.8 1364.7 1032.1 1366.2C1032.4 1367.9 1033.9 1368.3 1034 1370C1034.1 1372.0 1033.6 1373.1 1032.5 1374.8C1031.0 1377.1 1027.7 1379.6 1027.7 1379.6C1027.7 1379.6 1029.2 1382.1 1030.6 1383.4C1033.1 1385.6 1035.1 1385.7 1037.3 1388.1C1038.4 1389.3 1038.6 1390.4 1038.6 1392C1038.6 1394.0 1038.0 1394.9 1037.3 1396.7C1036.3 1399.4 1034.8 1400.5 1034.4 1403.4C1034.0 1406.1 1035.0 1407.4 1035.4 1410.1C1035.9 1413.1 1036.8 1414.6 1036.7 1417.7C1036.6 1420.8 1035.3 1422.2 1034.8 1425.3C1034.3 1428.3 1035.3 1430.0 1034.4 1432.9C1033.6 1435.4 1032.1 1436.1 1030.6 1438.3C1029.4 1440.0 1028.1 1440.5 1027.7 1442.5C1027.2 1445.1 1028.0 1446.5 1028.7 1449.1C1029.5 1451.9 1030.4 1453.1 1031.5 1455.8C1032.8 1459.0 1034.8 1461.1 1034.8 1463.8C1034.8 1466.5 1032.7 1467.5 1031.5 1470.1C1030.3 1472.6 1028.7 1476.4 1028.7 1476.4C1028.7 1476.4 1030.9 1478.4 1032.5 1479.6C1034.7 1481.3 1038.2 1483.5 1038.2 1483.5M1038.2 1483.5C1038.2 1483.5 1041.6 1481.6 1043.9 1480.6C1046.9 1479.3 1050.0 1477.7 1051.6 1477.7C1053.2 1477.7 1053.6 1480.1 1055.4 1480.6C1057.9 1481.3 1059.4 1481.0 1062 1480.6C1064.8 1480.2 1066.1 1479.7 1068.7 1478.7C1070.7 1478.0 1073.5 1476.4 1073.5 1476.4C1073.5 1476.4 1070.8 1481.0 1067.8 1482.5C1064.7 1484.0 1062.7 1483.4 1059.2 1483.5C1056.2 1483.6 1054.6 1483.0 1051.6 1483.1C1049.3 1483.2 1048.0 1483.2 1045.8 1484C1043.7 1484.7 1042.9 1485.5 1041.1 1486.7C1039.8 1487.6 1038.9 1487.8 1038.2 1489.2C1037.3 1490.9 1037.3 1492.0 1037.3 1493.9C1037.3 1496.2 1037.7 1497.4 1038.2 1499.7C1038.6 1501.6 1039.9 1502.4 1039.7 1504.4C1039.5 1506.5 1038.8 1507.6 1037.3 1509.2C1035.8 1510.8 1034.6 1511.1 1032.5 1512C1030.3 1512.9 1029.1 1512.9 1026.8 1513.6C1024.1 1514.5 1022.5 1514.4 1020.1 1515.9C1017.8 1517.3 1016.7 1518.3 1015.3 1520.6C1014.3 1522.3 1014.1 1523.5 1014.4 1525.4C1014.8 1527.9 1015.6 1529.0 1016.9 1531.1C1018.3 1533.5 1019.8 1534.3 1021.1 1536.8C1022.4 1539.3 1022.3 1540.9 1023.4 1543.5C1024.2 1545.5 1024.4 1546.6 1025.8 1548.3C1027.0 1549.8 1027.8 1550.6 1029.6 1551.1C1032.9 1552.0 1036.3 1551.4 1038.2 1551.5C1040.1 1551.6 1047.9 1551.5 1049.7 1552.1C1051.5 1552.7 1054.3 1555.7 1057.3 1557.8C1059.5 1559.4 1061.1 1559.6 1063 1561.6C1064.5 1563.2 1064.9 1564.3 1065.3 1566.4C1065.6 1567.9 1064.5 1570.0 1064.5 1570M1038.2 1483.5C1038.2 1483.5 1036.0 1486.1 1035.4 1488.2C1034.6 1491.1 1034.6 1492.8 1034.8 1495.8C1035.0 1498.9 1036.1 1500.4 1036.3 1503.5C1036.4 1504.7 1035.4 1506.3 1035.4 1506.3M1045.8 1484C1045.8 1484.0 1063.0 1484.4 1063 1484.4C1063.0 1484.4 1080.2 1487.3 1080.2 1487.3C1080.2 1487.3 1094.5 1494.3 1094.5 1494.3C1094.5 1494.3 1108.8 1495.8 1108.8 1495.8C1108.8 1495.8 1120.0 1497.4 1120 1497.4M1063 1562C1063.0 1562.0 1065.3 1564.5 1065.6 1566.6C1065.9 1568.5 1065.0 1569.4 1064.5 1571.2C1064.2 1572.5 1063.4 1573.0 1063.5 1574.3C1063.6 1575.6 1064.1 1576.4 1065.1 1577.2C1066.1 1578.0 1066.9 1578.0 1068.1 1578C1069.8 1578.0 1070.6 1577.4 1072.3 1577.2C1074.3 1577.0 1077.4 1576.9 1077.4 1576.9C1077.4 1576.9 1076.7 1578.1 1075.9 1578.5C1074.6 1579.2 1072.3 1579.5 1072.3 1579.5M1060.9 1579.7C1060.9 1579.7 1057.8 1577.4 1055.8 1575.9C1053.7 1574.3 1052.8 1573.3 1050.6 1571.8C1049.7 1571.2 1049.1 1570.6 1048 1570.7C1046.6 1570.8 1044.9 1572.1 1044.9 1572.1C1044.9 1572.1 1047.1 1573.8 1048.5 1574.9C1050.8 1576.7 1054.2 1579.5 1054.2 1579.5M419.2 740C419.2 740.0 410.9 757.8 410.9 757.8C410.9 757.8 400.1 780.7 400.1 780.7C400.1 780.7 390.6 799.7 390.6 799.7C390.6 799.7 382.3 816.9 382.3 816.9C382.3 816.9 381.9 821.9 381 825.1C380.1 828.0 378.4 829.1 377.9 832.1C377.5 834.1 378.9 835.1 378.9 837.2C378.9 839.0 378.7 840.1 377.9 841.7C376.5 844.5 375.2 845.5 373.4 848C371.2 851.0 367.7 855.4 367.7 855.4M400 988.2C400.0 988.2 401.6 985.8 402.9 984.3C404.9 982.0 407.4 979.9 409.6 977.2C411.3 975.1 411.7 973.7 413.4 971.5C414.4 970.2 414.9 969.5 416.2 968.6C417.2 967.9 417.9 967.8 419.1 967.6C421.9 967.2 424.8 967.3 428.6 966.9C432.5 966.5 434.6 966.6 438.2 965.5C441.4 964.6 442.8 963.4 445.8 961.9C447.7 961.0 448.6 960.4 450.5 959.5C452.8 958.4 456.3 956.7 456.3 956.7M400 996.2C400.0 996.2 397.2 998.6 396.7 1000.5C396.2 1002.2 397.1 1003.1 397.6 1004.8C398.3 1007.1 398.7 1008.3 399.6 1010.5C400.4 1012.5 400.6 1013.6 401.9 1015.3C402.6 1016.1 403.3 1016.1 404.3 1016.3C406.0 1016.6 408.6 1016.3 408.6 1016.3M638.4 1374.1C638.4 1374.1 639.6 1374.0 640.3 1373.8C641.1 1373.6 641.9 1373.5 642.2 1373.2C642.5 1372.9 642.7 1372.2 642.6 1371.6C642.5 1371.0 642.1 1370.8 641.6 1370.3C641.0 1369.7 640.7 1369.5 640 1369.1C639.5 1368.8 638.7 1368.4 638.7 1368.4C638.7 1368.4 638.8 1367.6 639.1 1367.2C639.5 1366.7 639.8 1366.6 640.3 1366.2C640.8 1365.7 641.0 1365.3 641.6 1364.9C642.5 1364.3 644.1 1363.7 644.1 1363.7M648.1 850.5C648.1 850.5 645.8 852.7 644.3 854.3C643.1 855.6 642.5 856.2 641.5 857.6C640.5 859.1 640.2 859.9 639.5 861.5C638.9 862.8 638.7 863.5 638.1 864.8C637.6 865.9 636.9 867.6 636.9 867.6C636.9 867.6 639.1 869.3 640.5 870.5C642.4 872.0 643.3 872.9 645.3 874.3C647.1 875.5 648.3 875.6 650 876.9C650.9 877.6 651.4 878.1 651.9 879.1C652.3 879.8 652.5 880.3 652.2 881C651.7 882.2 650.9 882.8 650 883.9C649.1 885.0 648.8 885.8 647.6 886.7C646.4 887.6 645.7 887.8 644.3 888.4C643.0 889.0 642.3 889.1 641 889.6C640.6 889.8 640.0 890.0 640 890M456.6 956.8C456.6 956.8 455.1 958.9 454 960.3C453.0 961.5 452.3 961.9 451.5 963.2C451.1 963.9 451.3 964.5 450.8 965.1C450.0 966.0 449.2 966.0 448.3 966.7C446.4 968.1 446.0 969.7 443.8 970.5C440.7 971.6 438.9 971.1 435.6 971.3C432.8 971.5 431.4 971.3 428.6 971.5C426.0 971.7 424.7 971.5 422.2 972.1C420.8 972.4 420.3 973.0 419.1 973.7C416.9 974.9 415.6 975.2 413.7 976.9C411.2 979.1 410.4 980.6 408.3 983.2C406.5 985.4 405.4 986.5 403.8 988.9C402.4 991.0 402.1 992.4 401 994.6C400.7 995.1 400.3 995.9 400.3 995.9M413.7 975.9C413.7 975.9 415.6 973.8 417.2 972.7C418.8 971.6 419.7 971.0 421.6 970.5C424.3 969.7 425.8 969.8 428.6 969.5C431.4 969.2 432.8 969.3 435.6 968.9C437.1 968.7 438.0 968.7 439.4 968C441.6 967.0 442.5 966.1 444.5 964.8C446.6 963.4 447.5 962.7 449.6 961.3C451.3 960.1 454.0 958.4 454 958.4M460.7 592.3C460.7 592.3 460.0 589.9 459.9 588.3C459.7 586.1 459.2 584.8 460 582.7C460.7 581.0 462.1 581.0 463.3 579.7C464.6 578.3 465.2 577.5 466.2 575.8C467.4 573.9 467.9 572.9 468.7 570.8C469.5 568.7 469.8 567.5 470.3 565.3C470.9 562.8 471.0 561.5 471.5 558.9C471.9 556.7 472.0 555.6 472.6 553.4C473.3 550.9 473.8 549.6 474.8 547.2C475.7 545.1 477.3 542.2 477.3 542.2C477.3 542.2 478.5 543.8 478.5 543.8C478.5 543.8 480.6 542.7 481.3 541.4C482.1 539.9 482.1 537.1 482.1 537.1C482.1 537.1 483.8 538.4 484.5 539.5C485.2 540.6 485.9 541.9 485.7 542.6C485.5 543.3 484.1 544.6 482.9 545.8C481.4 547.3 480.5 548.0 478.9 549.4C477.5 550.6 475.8 551.3 475.3 552.2C474.8 553.1 475.4 554.3 475.7 555.7C476.0 557.2 475.9 558.1 476.9 559.3C478.0 560.6 478.9 560.8 480.5 561.3C482.3 561.9 483.4 562.2 485.3 562.1C487.9 562.0 489.1 561.5 491.6 560.9C494.2 560.2 495.4 559.4 498 558.9C500.0 558.5 503.1 558.5 503.1 558.5C503.1 558.5 500.7 560.7 498.8 561.7C496.4 563.0 495.0 563.4 492.4 564.1C489.9 564.8 488.6 564.9 486.1 565.3C483.7 565.7 480.7 565.8 480.1 566.1C479.5 566.4 479.1 567.6 479.3 568.5C479.5 569.4 480.2 570.4 481.3 571.2C483.2 572.6 486.5 574.0 486.5 574C486.5 574.0 485.0 576.5 483.7 578C482.9 578.9 482.4 579.4 481.3 580C480.1 580.6 478.8 581.1 478.1 580.8C477.4 580.5 474.9 577.2 474.9 577.2C474.9 577.2 472.2 578.8 472.2 578.8C472.2 578.8 472.5 580.8 473 582C473.5 583.2 474.6 584.7 474.6 584.7C474.6 584.7 473.0 585.9 473 585.9C473.0 585.9 471.0 583.7 469.8 583.5C468.6 583.3 467.4 583.8 466.2 584.7C464.7 585.8 464.5 586.8 463.4 588.3C462.3 589.9 460.7 592.3 460.7 592.3Z"/>
</g>
<g class="g">
<path d="M400 140V1580M640 140V1580M880 140V1580M160 500H1120M160 860H1120M160 1220H1120"/>
</g>
</svg>
<rect x="160" y="140" width="960" height="1440" fill="none" stroke="#000" stroke-width="2"/>
<!--TICKS-->
<path d="M160 140h-7M160 500h-7M160 860h-7M160 1220h-7M160 1580h-7M160 1580v7M400 1580v7M640 1580v7M880 1580v7M1120 1580v7" stroke="#000" stroke-width="2" fill="none"/>
<g class="l" text-anchor="end">
<text x="144.4" y="155">42.5°N</text>
<text x="144.4" y="515">41°N</text>
<text x="144.4" y="875">39.5°N</text>
<text x="144.4" y="1235">38°N</text>
<text x="144.4" y="1595">36.5°N</text>
</g>
<g class="l" text-anchor="middle">
<text x="159.7" y="1623">10°W</text>
<text x="399.7" y="1623">9°W</text>
<text x="639.7" y="1623">8°W</text>
<text x="879.7" y="1623">7°W</text>
<text x="1119.7" y="1623">6°W</text>
</g>
<!--COLORBAR-->
<g>
<rect x="1122" y="140" width="36" height="320" fill="#800080"/>
<rect x="1122" y="460" width="36" height="160" fill="#b80046"/>
<rect x="1122" y="620" width="36" height="160" fill="#f0000f"/>
<rect x="1122" y="780" width="36" height="160" fill="#ff4800"/>
<rect x="1122" y="940" width="36" height="160" fill="#ffb400"/>
<rect x="1122" y="1100" width="36" height="160" fill="#d8ee00"/>
<rect x="1122" y="1260" width="36" height="160" fill="#6cb600"/>
<rect x="1122" y="1420" width="36" height="160" fill="#008000"/>
<path d="M1122 300.4h36M1122 460.4h36M1122 620.4h36M1122 780.4h36M1122 940.4h36M1122 1100.4h36M1122 1260.4h36M1122 1420.4h36" stroke="#000" stroke-width="1.3"/>
<path d="M1158 300h7M1158 460h7M1158 620h7M1158 780h7M1158 940h7M1158 1100h7M1158 1260h7M1158 1420h7M1158 1580h7" stroke="#000" stroke-width="2"/>
</g>
<g class="l">
<text x="1173.5" y="314">800</text>
<text x="1173.5" y="474">400</text>
<text x="1173.5" y="634">200</text>
<text x="1173.5" y="794">100</text>
<text x="1173.5" y="954">70</text>
<text x="1173.5" y="1114">50</text>
<text x="1173.5" y="1274">25</text>
<text x="1173.5" y="1434">10</text>
<text x="1173.5" y="1594">1</text>
</g>
</svg>
</body></html>
